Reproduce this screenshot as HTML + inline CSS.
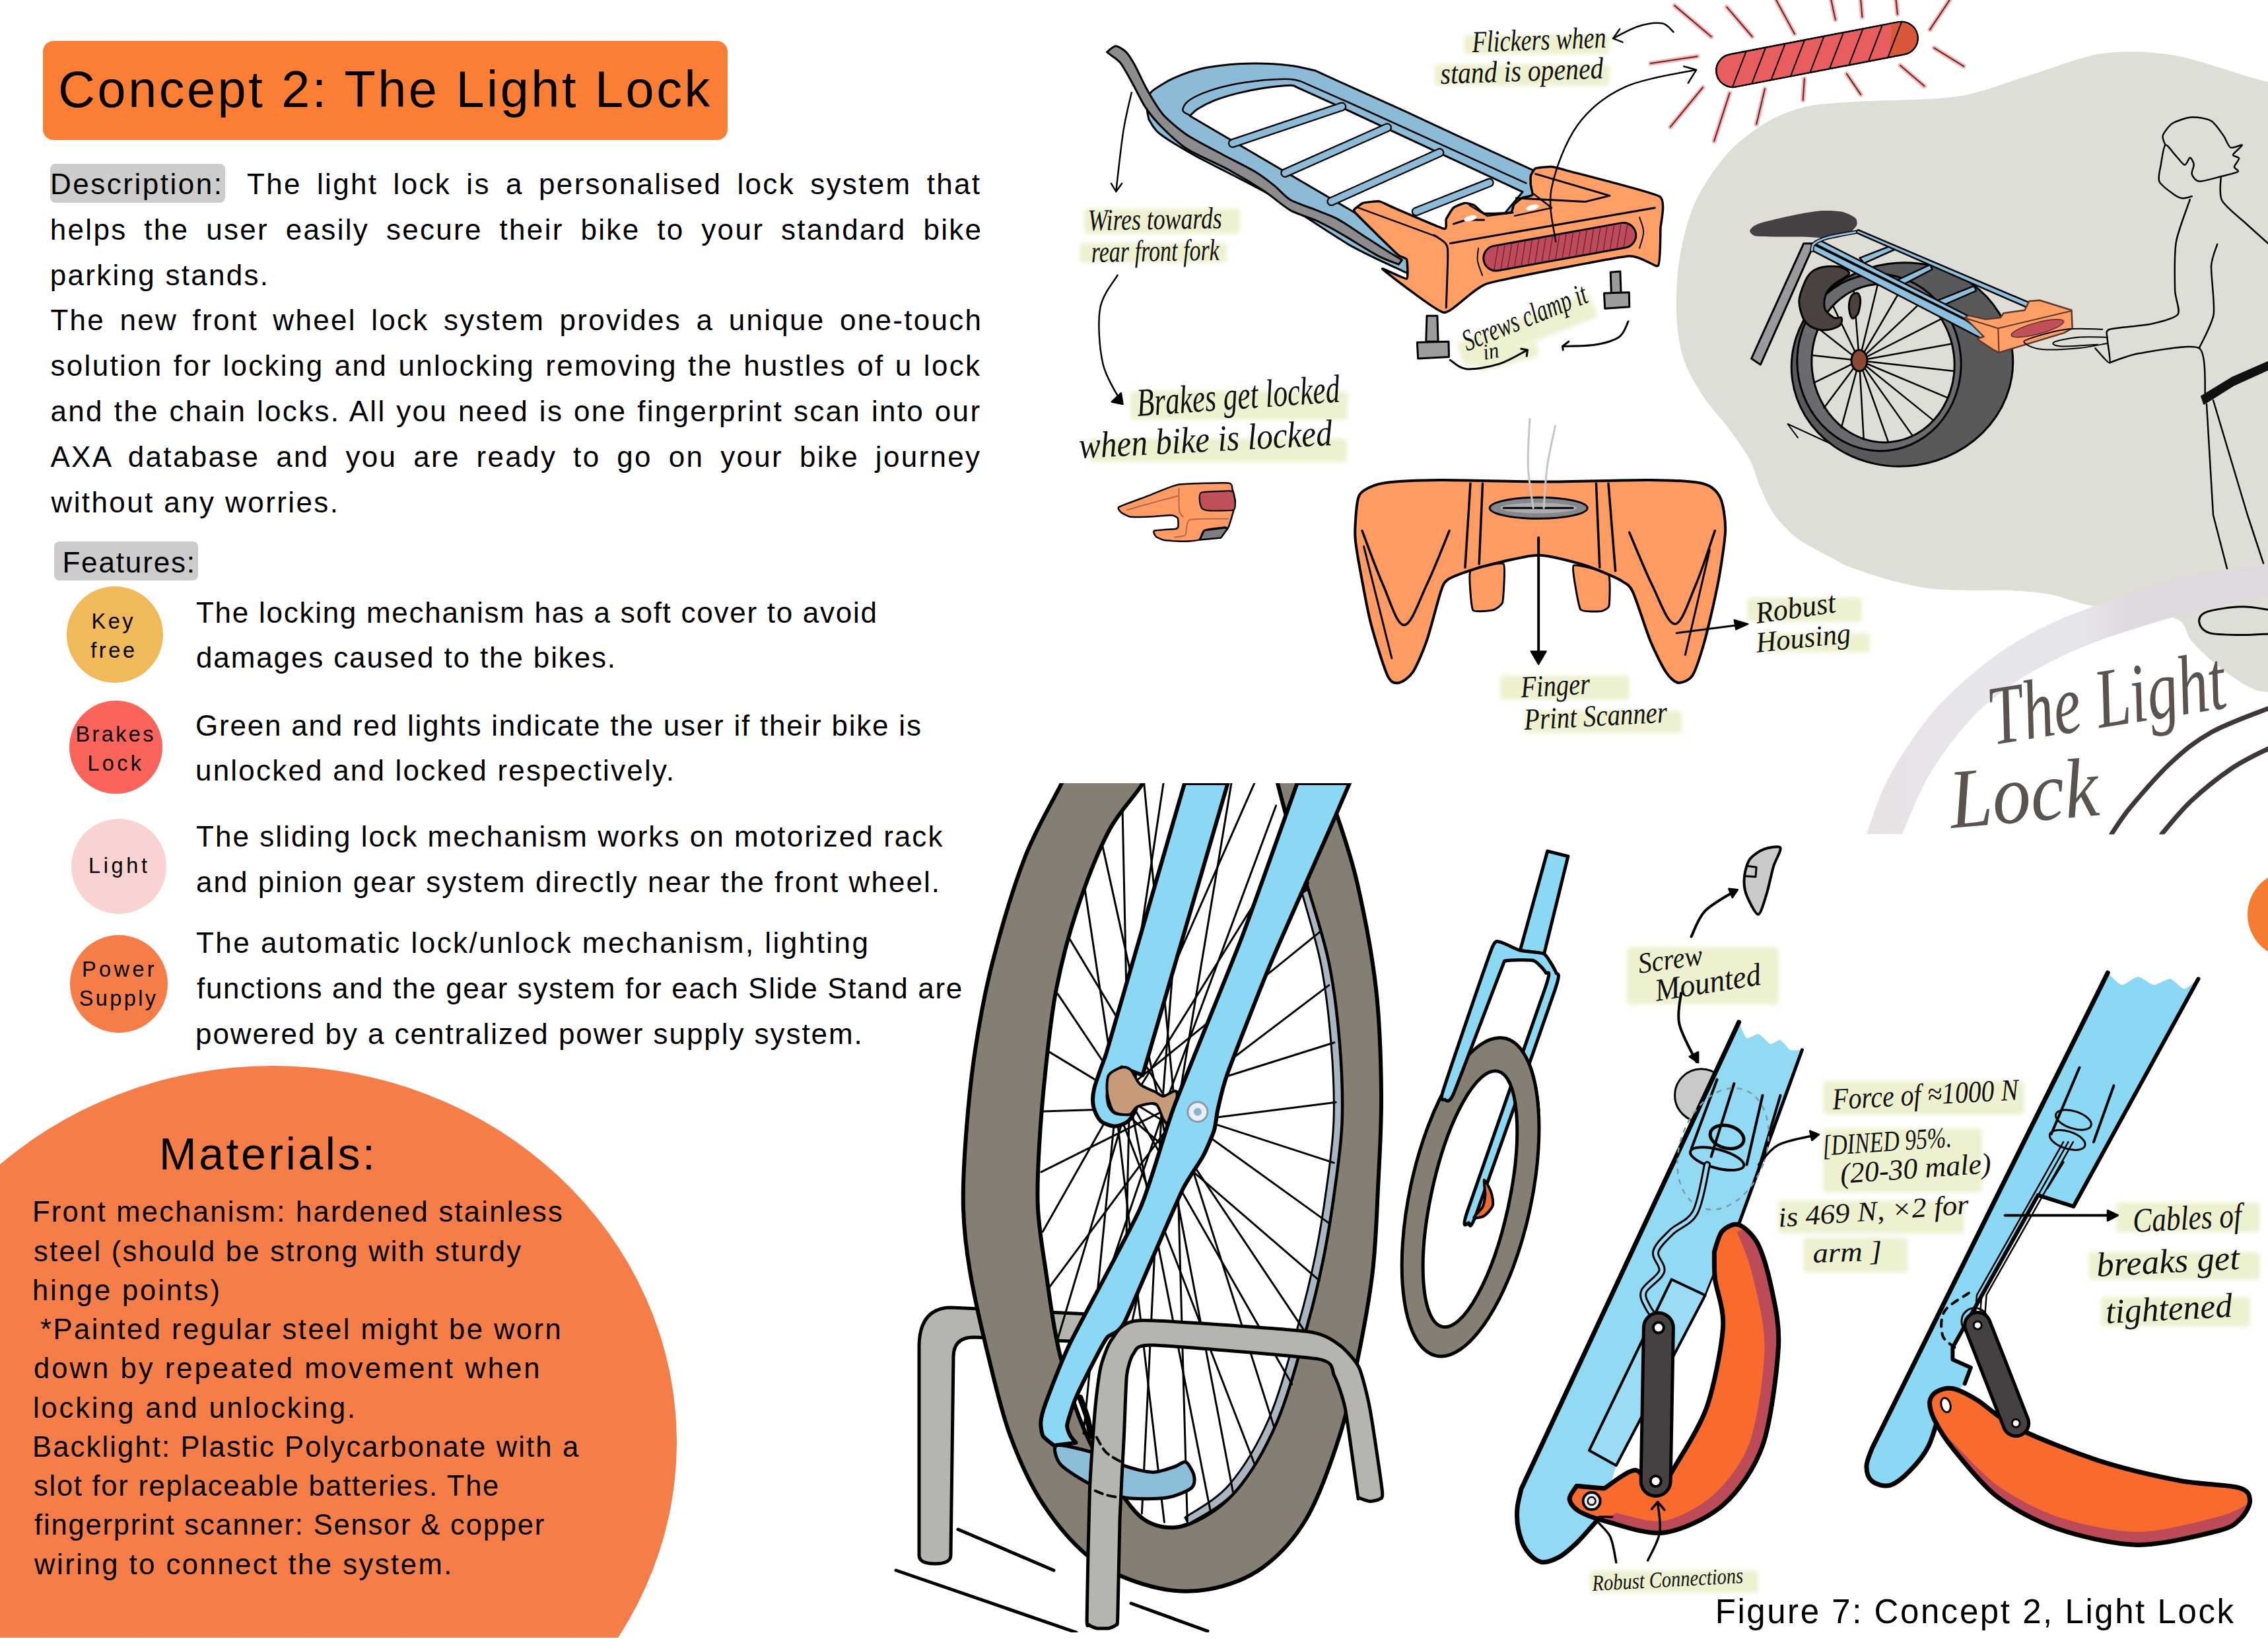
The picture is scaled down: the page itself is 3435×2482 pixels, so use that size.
<!DOCTYPE html>
<html lang="en"><head><meta charset="utf-8"><title>Concept 2: The Light Lock</title>
<style>
html,body{margin:0;padding:0;background:#fff;}
body{width:3435px;height:2482px;font-family:"Liberation Sans",sans-serif;color:#000;}
.t{position:absolute;white-space:pre;line-height:1;}
.box{position:absolute;}
.c{position:absolute;border-radius:50%;}
svg.art{position:absolute;left:0;top:0;}
svg.art text{font-family:"Liberation Serif",serif;font-style:italic;}
#page{position:relative;width:3435px;height:2482px;overflow:hidden;background:#fff;}
</style></head><body><div id="page">
<div class="c" style="left:-199.3px;top:1614px;width:1224px;height:1140px;background:#F47D48;"></div>
<div class="box" style="left:0;top:2479.5px;width:1100px;height:3px;background:#fff;"></div>
<div class="box" style="left:64.5px;top:61.5px;width:1037.4px;height:150.2px;border-radius:16px;background:#FA7F34;"></div>
<div class="box" style="left:76px;top:248px;width:265px;height:59px;border-radius:8px;background:#CCCCCC;"></div>
<div class="box" style="left:82px;top:820px;width:218px;height:58.5px;border-radius:8px;background:#CCCCCC;"></div>
<div class="c" style="left:100.5px;top:887.8px;width:146px;height:146px;background:#F0B95A;"></div>
<div class="c" style="left:104.5px;top:1061px;width:141px;height:141px;background:#FA645A;"></div>
<div class="c" style="left:107.5px;top:1240px;width:144px;height:144px;background:#FAD2D2;"></div>
<div class="c" style="left:106px;top:1415.6px;width:148px;height:148px;background:#F47D48;"></div>
<svg class="art" width="3435" height="2482" viewBox="0 0 3435 2482">
<!-- highlights -->
<defs><filter id="blurHL" x="-10%" y="-30%" width="120%" height="160%"><feGaussianBlur stdDeviation="3"/></filter></defs>
<rect x="2217" y="53" width="221" height="29" rx="6" fill="#EDF1CF" filter="url(#blurHL)"/>
<rect x="2173" y="97" width="265" height="33" rx="6" fill="#EDF1CF" filter="url(#blurHL)"/>
<rect x="1642" y="316" width="236" height="38" rx="6" fill="#EDF1CF" filter="url(#blurHL)"/>
<rect x="1635" y="368" width="223" height="30" rx="6" fill="#EDF1CF" filter="url(#blurHL)"/>
<rect x="1712" y="592" width="329" height="44" rx="6" fill="#EDF1CF" filter="url(#blurHL)"/>
<rect x="1650" y="664" width="390" height="36" rx="6" fill="#EDF1CF" filter="url(#blurHL)"/>
<rect x="2205" y="480" width="215" height="40" rx="6" fill="#EDF1CF" filter="url(#blurHL)" transform="rotate(-21 2312.5 500)"/>
<rect x="2235" y="528" width="95" height="24" rx="6" fill="#EDF1CF" filter="url(#blurHL)" transform="rotate(-15 2282.5 540)"/>
<rect x="2272" y="1023" width="196" height="37" rx="6" fill="#EDF1CF" filter="url(#blurHL)"/>
<rect x="2309" y="1076" width="238" height="34" rx="6" fill="#EDF1CF" filter="url(#blurHL)"/>
<rect x="2646" y="905" width="174" height="37" rx="6" fill="#EDF1CF" filter="url(#blurHL)"/>
<rect x="2663" y="959" width="169" height="29" rx="6" fill="#EDF1CF" filter="url(#blurHL)"/>
<rect x="2464" y="1434" width="230" height="87" rx="6" fill="#EDF1CF" filter="url(#blurHL)"/>
<rect x="2761" y="1637" width="305" height="51" rx="6" fill="#EDF1CF" filter="url(#blurHL)"/>
<rect x="2761" y="1709" width="241" height="97" rx="6" fill="#EDF1CF" filter="url(#blurHL)"/>
<rect x="2693" y="1818" width="282" height="50" rx="6" fill="#EDF1CF" filter="url(#blurHL)"/>
<rect x="2731" y="1874" width="158" height="53" rx="6" fill="#EDF1CF" filter="url(#blurHL)"/>
<rect x="3205" y="1821" width="218" height="45" rx="6" fill="#EDF1CF" filter="url(#blurHL)"/>
<rect x="3163" y="1896" width="260" height="42" rx="6" fill="#EDF1CF" filter="url(#blurHL)"/>
<rect x="3182" y="1964" width="226" height="45" rx="6" fill="#EDF1CF" filter="url(#blurHL)"/>
<rect x="2408" y="2378" width="255" height="34" rx="6" fill="#EDF1CF" filter="url(#blurHL)"/>
<!-- art_blob -->
<path d="M3435 124 C3404.1 118 3331.7 90.5 3294 84 C3256.3 77.5 3217 76.5 3184 81 C3151 85.5 3106.8 104.2 3074 114 C3041.2 123.8 3004.4 140 2965 146 C2925.6 152 2845.8 151.6 2811 154 C2776.2 156.4 2754 156.9 2733 162 C2712 167.1 2688.8 177.1 2671 188 C2653.2 198.9 2629.6 217.2 2614 235 C2598.4 252.8 2577.5 283.8 2567 307 C2556.5 330.2 2548.2 365.1 2544 390 C2539.8 414.9 2538.2 450.4 2539 473 C2539.8 495.6 2543.2 522.2 2549 541 C2554.8 559.8 2567.5 581.6 2578 598 C2588.5 614.4 2608.2 635.3 2619 650 C2629.8 664.7 2642.9 682.8 2650 696 C2657.1 709.2 2660.4 725.5 2666 738 C2671.6 750.5 2678.4 767.3 2687 779 C2695.6 790.7 2709.8 806.1 2723 816 C2736.2 825.9 2763.4 838.7 2775 845 C2786.6 851.3 2787.1 853 2800 858 C2812.9 863 2842.7 873 2861 878 C2879.3 883 2903.7 888.6 2922 891 C2940.3 893.4 2964.7 893.5 2983 894 C3001.3 894.5 3025.7 893.1 3044 894 C3062.3 894.9 3086.7 896.5 3105 900 C3123.3 903.5 3145.8 913.2 3166 917 C3186.2 920.8 3219.9 921.7 3240 925 C3260.1 928.3 3288.3 932.4 3300 939 C3311.7 945.6 3310.7 959.9 3318 969 C3325.3 978.1 3339.7 991.8 3349 1000 C3358.3 1008.2 3370.8 1017.7 3380 1024 C3389.2 1030.3 3401.8 1038.4 3410 1042 C3418.2 1045.6 3421.5 1046.8 3435 1048 C3448.5 1049.2 3490.2 1188.6 3500 1050 C3509.8 911.4 3509.8 262.9 3500 124 C3490.2 -14.9 3465.9 130 3435 124 Z" fill="#DEDED6"/>
<path d="M2731.7 368.8 L2652.6 543 L2666.4 552.2 L2747.8 368.8 Z" fill="#9A9A9E" stroke="#000" stroke-width="3" stroke-linejoin="round" stroke-linecap="round"/>
<g transform="rotate(-8 2881 552)"><ellipse cx="2881" cy="552" rx="168" ry="154" fill="#58595B" stroke="#000" stroke-width="3"/></g>
<ellipse cx="2846" cy="549" rx="124" ry="134" fill="#6A6B6E" stroke="#000" stroke-width="3" transform="rotate(-6 2846 549)"/>
<ellipse cx="2852" cy="550" rx="108" ry="120" fill="#DEDED6" stroke="#000" stroke-width="3" transform="rotate(-6 2852 550)"/>
<line x1="2816" y1="546" x2="2959.5" y2="562" stroke="#000" stroke-width="2.5" stroke-linecap="round"/>
<line x1="2816" y1="546" x2="2949.3" y2="602.1" stroke="#000" stroke-width="2.5" stroke-linecap="round"/>
<line x1="2816" y1="546" x2="2927.4" y2="635.9" stroke="#000" stroke-width="2.5" stroke-linecap="round"/>
<line x1="2816" y1="546" x2="2896.4" y2="659.4" stroke="#000" stroke-width="2.5" stroke-linecap="round"/>
<line x1="2816" y1="546" x2="2860" y2="669.7" stroke="#000" stroke-width="2.5" stroke-linecap="round"/>
<line x1="2816" y1="546" x2="2822.7" y2="665.5" stroke="#000" stroke-width="2.5" stroke-linecap="round"/>
<line x1="2816" y1="546" x2="2788.9" y2="647.4" stroke="#000" stroke-width="2.5" stroke-linecap="round"/>
<line x1="2816" y1="546" x2="2762.7" y2="617.6" stroke="#000" stroke-width="2.5" stroke-linecap="round"/>
<line x1="2816" y1="546" x2="2747.3" y2="579.6" stroke="#000" stroke-width="2.5" stroke-linecap="round"/>
<line x1="2816" y1="546" x2="2744.5" y2="538" stroke="#000" stroke-width="2.5" stroke-linecap="round"/>
<line x1="2816" y1="546" x2="2754.7" y2="497.9" stroke="#000" stroke-width="2.5" stroke-linecap="round"/>
<line x1="2816" y1="546" x2="2776.6" y2="464.1" stroke="#000" stroke-width="2.5" stroke-linecap="round"/>
<line x1="2816" y1="546" x2="2807.6" y2="440.6" stroke="#000" stroke-width="2.5" stroke-linecap="round"/>
<line x1="2816" y1="546" x2="2844" y2="430.3" stroke="#000" stroke-width="2.5" stroke-linecap="round"/>
<line x1="2816" y1="546" x2="2881.3" y2="434.5" stroke="#000" stroke-width="2.5" stroke-linecap="round"/>
<line x1="2816" y1="546" x2="2915.1" y2="452.6" stroke="#000" stroke-width="2.5" stroke-linecap="round"/>
<line x1="2816" y1="546" x2="2941.3" y2="482.4" stroke="#000" stroke-width="2.5" stroke-linecap="round"/>
<line x1="2816" y1="546" x2="2956.7" y2="520.4" stroke="#000" stroke-width="2.5" stroke-linecap="round"/>
<ellipse cx="2816" cy="546" rx="12" ry="16" fill="#8A4A36" stroke="#000" stroke-width="3"/>
<path d="M2732.9 428.4 C2735.6 421.9 2738.9 416 2743.2 412.3 C2747.5 408.7 2755 405.5 2761.5 404.3 C2768.1 403.1 2780.9 402.8 2786.7 404.3 C2792.6 405.9 2801.9 410.7 2800.5 414.6 C2799.1 418.6 2782.9 425.9 2777.6 430.7 C2772.2 435.5 2767 441.2 2765 446.7 C2762.9 452.2 2761.9 462.2 2763.8 467.4 C2765.7 472.5 2773.8 479.1 2777.6 481.1 C2781.4 483.2 2787.7 479.4 2789 481.1 C2790.4 482.8 2789.8 489.8 2786.7 492.6 C2783.6 495.3 2774.2 498.8 2768.4 499.5 C2762.5 500.2 2753.3 499.6 2747.8 497.2 C2742.3 494.8 2735.2 489.6 2731.7 483.4 C2728.3 477.2 2724.7 464.2 2724.8 455.9 C2725 447.7 2730.1 434.9 2732.9 428.4 Z" fill="#4A4140" stroke="#000" stroke-width="3" stroke-linejoin="round" stroke-linecap="round"/>
<path d="M2800.5 460.5 C2801 456.4 2803 449.1 2805.1 446.7 C2807.1 444.3 2812.4 443.1 2814.3 444.4 C2816.1 445.8 2817.7 451.4 2817.7 455.9 C2817.7 460.4 2816 470.3 2814.3 474.3 C2812.5 478.2 2808.1 482.3 2806.2 482.3 C2804.3 482.3 2802.5 477.5 2801.6 474.3 C2800.8 471 2800 464.6 2800.5 460.5 Z" fill="#4A4140" stroke="#000" stroke-width="3" stroke-linejoin="round" stroke-linecap="round"/>
<path d="M2650.3 349.3 C2650.9 346.8 2655.1 341.9 2662.9 339 C2670.7 336.1 2696.6 330.1 2708.8 327.5 C2721 324.9 2743.9 320.4 2754.6 319.5 C2765.3 318.6 2781.7 319.3 2789 320.6 C2796.4 322 2806.6 327.1 2809.7 329.8 C2812.7 332.6 2813.2 338.2 2812 341.3 C2810.7 344.3 2805.1 350.1 2800.5 352.7 C2795.9 355.3 2786.7 360 2777.6 360.8 C2768.4 361.5 2743.9 358.8 2731.7 358.5 C2719.5 358.2 2695.6 358.6 2685.9 358.5 C2676.1 358.3 2663.1 358.5 2658.3 357.3 C2653.6 356.1 2649.7 351.7 2650.3 349.3 Z" fill="#454142"/>
<path d="M2816.5 390.6 L2865.8 371.5 L2869.3 378 L2823.4 398.6 Z" fill="#8BC0DE" stroke="#000" stroke-width="2.5" stroke-linejoin="round" stroke-linecap="round"/>
<path d="M2873.9 423.8 L2923.2 400.9 L2926.6 407.8 L2880.7 431.8 Z" fill="#8BC0DE" stroke="#000" stroke-width="2.5" stroke-linejoin="round" stroke-linecap="round"/>
<path d="M2932.3 455.9 L2989.7 433 L2993.1 440.3 L2939.2 463.9 Z" fill="#8BC0DE" stroke="#000" stroke-width="2.5" stroke-linejoin="round" stroke-linecap="round"/>
<path d="M2809.7 351.6 L2814.3 348.1 L3073.3 458.2 L3069.9 465.5 Z" fill="#8BC0DE" stroke="#000" stroke-width="2.5" stroke-linejoin="round" stroke-linecap="round"/>
<path d="M2754.6 363.1 L2979.3 477.7 L2977 483.4 L2750.1 369.9 Z" fill="#8BC0DE" stroke="#000" stroke-width="2.5" stroke-linejoin="round" stroke-linecap="round"/>
<path d="M2747.8 370.6 L2977 484.6 L3006.8 506.4 L3004.6 514.4 L2744.3 379.1 Z" fill="#8BC0DE" stroke="#000" stroke-width="2.5" stroke-linejoin="round" stroke-linecap="round"/>
<path d="M2744.3 379.1 C2744.9 377.4 2743.7 372 2747.8 368.8 C2751.8 365.5 2758.1 362.5 2768.4 359.6 C2778.7 356.7 2802.8 352.9 2809.7 351.6" fill="none" stroke="#000" stroke-width="6" stroke-linejoin="round" stroke-linecap="round"/>
<path d="M2744.3 379.1 C2744.9 377.4 2743.7 372 2747.8 368.8 C2751.8 365.5 2758.1 362.5 2768.4 359.6 C2778.7 356.7 2802.8 352.9 2809.7 351.6" fill="none" stroke="#8BC0DE" stroke-width="3" stroke-linejoin="round" stroke-linecap="round"/>
<path d="M2975.9 481.1 L2981.6 477.7 L3006.8 483.4 L3029.8 481.1 L3034.4 474.3 L3066.5 469.7 L3073.3 455.9 L3089.4 454.8 L3137.5 469.7 L3138.7 497.2 L3126.1 504.1 L3027.5 533.9 L3018.3 529.3 L2994.2 513.2 L3004.6 509.8 Z" fill="#FF9F66" stroke="#5A3A2A" stroke-width="2.5" stroke-linejoin="round" stroke-linecap="round"/>
<ellipse cx="3085.9" cy="497.2" rx="41" ry="8.6" transform="rotate(-15 3085.9 497.2)" fill="#C0505A" stroke="#5A2A2A" stroke-width="1.5"/>
<path d="M3027.5 533.9 L3026.3 497.2 L3137.5 470.8" fill="none" stroke="#5A3A2A" stroke-width="2" stroke-linejoin="round" stroke-linecap="round"/>
<path d="M2978.2 482.3 L3026.3 497.2" fill="none" stroke="#5A3A2A" stroke-width="2" stroke-linejoin="round" stroke-linecap="round"/>
<path d="M2723 662.8 L2707.5 642 L2769.7 670.5" fill="none" stroke="#000" stroke-width="2" stroke-linejoin="round" stroke-linecap="round"/>
<path d="M3184.2 498.7 C3175.1 498.7 3147.6 496.4 3129.3 498.7 C3111 501 3084.8 509.1 3074.4 512.6 C3064 516.2 3064 517.2 3067.1 520 C3070.1 522.7 3079.3 527.9 3092.7 529.1 C3106.1 530.3 3131.2 528.8 3147.6 527.3 C3164.1 525.8 3184.2 521.2 3191.6 520" fill="none" stroke="#000" stroke-width="2" stroke-linejoin="round" stroke-linecap="round"/>
<path d="M3191.6 510.8 C3184.2 510.8 3161.1 509.6 3147.6 510.8 C3134.2 512 3115.3 515.9 3111 518.1 C3106.7 520.4 3111 523.7 3122 524.4 C3133 525 3167.8 522.2 3176.9 521.8" fill="none" stroke="#000" stroke-width="2" stroke-linejoin="round" stroke-linecap="round"/>
<path d="M3279.5 219.7 C3279 217.7 3274.3 209.4 3275.8 205.1 C3277.3 200.7 3284.6 190.4 3290.4 186.7 C3296.3 183.1 3311.9 178.1 3319.7 177.6 C3327.5 177.1 3342.7 179.4 3349 183.1 C3355.4 186.7 3363.4 199.7 3367.3 205.1 C3371.2 210.4 3374.5 221.4 3378.3 223.4 C3382.1 225.3 3395.4 218.2 3395.9 219.7 C3396.4 221.2 3382.6 231.7 3382 234.3 C3381.3 237 3390.9 237.4 3391.1 239.8 C3391.4 242.3 3384.1 250 3383.8 252.7 C3383.6 255.3 3392 258 3389.3 260 C3386.6 261.9 3371.5 265.3 3363.7 267.3 C3355.9 269.3 3336.6 275.1 3330.7 274.6 C3324.9 274.1 3320.8 267.1 3319.7 263.6 C3318.7 260.2 3323.1 252.3 3322.7 249 C3322.3 245.7 3318.7 238.6 3316.8 238.7 C3314.9 238.8 3311.8 250.3 3308.7 249.7 C3305.7 249.1 3298 238.3 3294.1 234.3 C3290.2 230.3 3282.3 217.7 3279.5 219.7 C3276.6 221.7 3274.1 241.7 3272.9 249 C3271.6 256.3 3268 268.8 3270.3 274.6 C3272.6 280.5 3285.8 289.5 3290.4 292.9 C3295.1 296.4 3301.2 299.7 3305.1 300.3 C3309 300.8 3317.8 297.7 3319.7 297.3" fill="none" stroke="#000" stroke-width="2.5" stroke-linejoin="round" stroke-linecap="round"/>
<path d="M3363.7 268 C3363.9 272.8 3360.1 294.3 3365.5 303.9 C3370.9 313.6 3393.9 331.3 3403.9 340.5 C3414 349.8 3435.7 369.1 3440.6 373.5" fill="none" stroke="#000" stroke-width="2.5" stroke-linejoin="round" stroke-linecap="round"/>
<path d="M3316.8 302.1 C3314.4 309.6 3298.6 350.1 3295.9 366.2 C3293.3 382.2 3293.8 426.6 3294.1 439.4 C3294.4 452.2 3302.8 470 3298.5 476 C3294.2 482 3269.5 488 3257.5 490.7 C3245.4 493.3 3202.9 496.2 3195.2 498.7 C3187.5 501.3 3191.6 506.7 3191.6 512.6 C3191.6 518.5 3197.4 547.5 3195.2 549.2 C3193.1 551 3175.8 529.8 3173.3 527.3" fill="none" stroke="#000" stroke-width="2.5" stroke-linejoin="round" stroke-linecap="round"/>
<path d="M3195.2 549.2 C3200.4 547.6 3223.4 537.9 3239.2 535.3 C3255 532.8 3319 519.7 3330.7 527.3 C3342.5 534.8 3338.8 591.6 3339.9 600.1" fill="none" stroke="#000" stroke-width="2.5" stroke-linejoin="round" stroke-linecap="round"/>
<path d="M3358.2 369.8 C3357.1 373.7 3349.7 390.4 3349 402.8 C3348.4 415.2 3354.8 461.5 3352.7 476 C3350.5 490.5 3333.3 521.3 3330.7 527.3" fill="none" stroke="#000" stroke-width="2.5" stroke-linejoin="round" stroke-linecap="round"/>
<path d="M3334 600 L3380 572 L3435 548 L3435 560 L3384 583 L3338 612 Z" fill="#111" stroke="#111" stroke-width="2" stroke-linejoin="round" stroke-linecap="round"/>
<path d="M3342 612 L3352 780 L3373 861" fill="none" stroke="#000" stroke-width="2.5" stroke-linejoin="round" stroke-linecap="round"/>
<path d="M3352 606 L3404 780 L3428 853" fill="none" stroke="#000" stroke-width="2.5" stroke-linejoin="round" stroke-linecap="round"/>
<path d="M3435 923.3 C3428.3 922.6 3410.1 918.3 3394.7 918.8 C3379.4 919.3 3353.6 922.6 3342.9 926.4 C3332.2 930.2 3330.2 936.3 3330.7 941.6 C3331.2 947 3335.3 955.1 3345.9 958.4 C3356.6 961.7 3379.9 961.2 3394.7 961.5 C3409.6 961.7 3428.3 960.2 3435 959.9" fill="none" stroke="#000" stroke-width="3" stroke-linejoin="round" stroke-linecap="round"/>
<!-- art_rack -->
<path d="M1737.3 167.6 C1737.9 163.8 1738.5 148 1741.3 142.4 C1744 136.9 1750.5 134.1 1755.8 130.5 C1761.2 127 1769 122.2 1777 118.6 C1784.9 115.1 1798 109.6 1808.7 106.7 C1819.4 103.8 1834.5 100.9 1848.4 99.3 C1862.3 97.7 1885.4 96.1 1901.3 96.1 C1917.2 96.1 1940.7 97.7 1954.2 99.3 C1967.7 100.9 1985.7 105.6 1991.3 106.7 L2046.8 131.9 L2126.2 167.6 L2205.6 204.6 L2327.2 260.2 L2327.2 321 L2131.5 426.8 L2131.5 413.6 C2120.2 408.1 2072.2 387.1 2046.8 372.6 C2021.4 358.1 1962.2 318 1941 305.1 C1919.8 292.3 1905.7 285.4 1888.1 276 C1870.5 266.7 1826.4 244.9 1808.7 235 C1791.1 225.1 1765 209.2 1755.8 202 C1746.6 194.7 1742.1 183.6 1739.9 180.8 Z" fill="#8BBBD6" stroke="#000" stroke-width="3" stroke-linejoin="round" stroke-linecap="round"/>
<path d="M1802.1 175.5 C1803.9 173.9 1808.3 168.5 1814 164.9 C1819.8 161.3 1831.3 155.3 1840.5 151.7 C1849.6 148.1 1863.8 143.9 1874.9 141.1 C1886 138.3 1902.6 135 1914.6 133.2 C1926.5 131.4 1946.9 129.4 1954.2 129.2 C1961.6 129 1962.1 131.5 1963.5 131.9 L2031 162.3 L2306.1 290.6 L2258.5 347.5 L2099.7 347.5 L2054.8 323.7 Z" fill="#fff" stroke="#000" stroke-width="3" stroke-linejoin="round" stroke-linecap="round"/>
<path d="M1802.9 175 C1801.2 173.9 1792.2 170.7 1791.5 167.6 C1790.8 164.5 1793.6 158.3 1798.1 154.3 C1802.7 150.4 1812.4 144.9 1822 141.1 C1831.5 137.3 1847.8 132.2 1861.6 129.2 C1875.5 126.2 1900.7 122.7 1914.6 121.3 C1928.4 119.9 1945.9 119.7 1954.2 119.9 C1962.6 120.2 1967.7 122.6 1970.1 123.1 L1970.1 123.1 L2046.8 157 L2311.4 277.4" fill="none" stroke="#000" stroke-width="2.5" stroke-linejoin="round" stroke-linecap="round"/>
<line x1="1866.9" y1="217" x2="2032.3" y2="161.5" stroke="#000" stroke-width="14" stroke-linecap="round"/>
<line x1="1866.9" y1="217" x2="2032.3" y2="161.5" stroke="#8BBBD6" stroke-width="9.5" stroke-linecap="round"/>
<line x1="1946.3" y1="262" x2="2101.1" y2="193.2" stroke="#000" stroke-width="14" stroke-linecap="round"/>
<line x1="1946.3" y1="262" x2="2101.1" y2="193.2" stroke="#8BBBD6" stroke-width="9.5" stroke-linecap="round"/>
<line x1="2016.4" y1="305.1" x2="2180.4" y2="231.1" stroke="#000" stroke-width="14" stroke-linecap="round"/>
<line x1="2016.4" y1="305.1" x2="2180.4" y2="231.1" stroke="#8BBBD6" stroke-width="9.5" stroke-linecap="round"/>
<line x1="2144.7" y1="320.5" x2="2255.8" y2="276.6" stroke="#000" stroke-width="14" stroke-linecap="round"/>
<line x1="2144.7" y1="320.5" x2="2255.8" y2="276.6" stroke="#8BBBD6" stroke-width="9.5" stroke-linecap="round"/>
<path d="M1676.5 78.9 C1678.2 77.7 1685.8 69.7 1689.7 69.7 C1693.6 69.7 1701.7 75.1 1705.6 78.9 C1709.4 82.8 1714.6 91.2 1718.8 98.8 C1723 106.4 1731.7 125.9 1737.3 135.8 C1742.9 145.7 1753 163.7 1761.1 172.9 C1769.2 182 1786.2 196.5 1798.1 204.6 C1810.1 212.7 1837.3 226.3 1851.1 233.7 C1864.8 241.1 1890.7 253.8 1901.3 260.2 C1911.9 266.5 1923.4 275.7 1930.4 281.3 C1937.5 287 1945.8 297.5 1954.2 302.5 C1962.7 307.4 1984.4 314.5 1993.9 318.4 C2003.4 322.2 2016.5 326.6 2025.7 331.6 C2034.8 336.5 2052.8 349 2062.7 355.4 C2072.6 361.7 2091.6 374.1 2099.7 379.2 C2107.8 384.3 2120.4 391.8 2123.5 393.8 L2118.3 400.4 C2114 398.6 2097.8 393.1 2086.5 387.1 C2075.2 381.1 2045.9 362.5 2033.6 355.4 C2021.3 348.3 2004.5 339.2 1993.9 334.2 C1983.3 329.3 1964.8 324.4 1954.2 318.4 C1943.7 312.4 1926.9 297.4 1914.6 289.3 C1902.2 281.1 1877.2 266 1861.6 257.5 C1846.1 249 1811.6 234.2 1798.1 225.8 C1784.7 217.3 1769.6 202.5 1761.1 194 C1752.6 185.6 1740.7 171.1 1734.7 162.3 C1728.7 153.5 1721.1 136.7 1716.1 127.9 C1711.2 119.1 1702.2 102.1 1697.6 96.1 C1693 90.1 1683.9 84.7 1681.7 82.9 Z" fill="#8C8C8E" stroke="#000" stroke-width="3" stroke-linejoin="round" stroke-linecap="round"/>
<path d="M2051.2 317.1 C2052.1 316.1 2061.9 308.3 2064.6 307.4 C2067.4 306.5 2085.6 304.4 2089 304.9 C2092.4 305.5 2103.8 311.6 2111 314.7 C2118.2 317.7 2180.8 345.2 2186.7 346.4 C2192.5 347.7 2189.2 334.1 2190.3 331.8 C2191.4 329.4 2199.2 316.5 2201.3 314.7 C2203.4 312.9 2216 307.6 2218.4 307.4 C2220.7 307.1 2230.9 309.9 2233 311 C2235.2 312.2 2243.6 322.4 2247.7 323.2 C2251.7 324 2284.6 323 2287.9 322 C2291.2 321 2291.5 311.4 2292.8 309.8 C2294.1 308.2 2302.9 301.1 2305 300 C2307.1 299 2319.9 296.6 2320.9 295.2 C2321.8 293.7 2318.6 282.7 2318.4 280.5 C2318.2 278.4 2317.9 267.8 2318.4 265.9 C2319 264 2323.4 255.9 2325.7 254.9 C2328.1 253.9 2346.6 252.2 2350.1 252.5 C2353.7 252.7 2362.6 255.3 2374.5 258.6 C2386.5 261.9 2503.4 291.2 2513.6 297.6 C2523.9 304.1 2515 338.7 2514.9 346.4 C2514.7 354.1 2514.9 399.5 2511.2 402.5 C2507.5 405.6 2483.8 385.9 2464.8 387.9 C2445.9 389.9 2272.9 423.1 2252.5 429.4 C2232.1 435.6 2198.3 474.9 2186.7 473.3 C2175 471.7 2098 411.2 2093.9 407.4 C2089.8 403.7 2127.8 423.1 2130.5 422.1 C2133.2 421 2131.4 395.4 2130.5 392.8 C2129.6 390.2 2121.5 389.4 2118.3 386.7 C2115.1 384 2091.4 360.9 2086.6 356.2 C2081.8 351.4 2055 324.9 2052.4 322 C2049.8 319.1 2050.3 318.2 2051.2 317.1 Z" fill="#FF9F66" stroke="#000" stroke-width="3.5" stroke-linejoin="round" stroke-linecap="round"/>
<line x1="2196.4" y1="368.4" x2="2506.3" y2="314.7" stroke="#000" stroke-width="3" stroke-linecap="round"/>
<path d="M2172 356.2 C2174.3 357.8 2186.3 364.5 2189.1 368.4 C2191.9 372.3 2192.6 372.4 2192.8 385.5 C2192.9 398.5 2190.6 455.2 2190.3 466" fill="none" stroke="#000" stroke-width="3" stroke-linejoin="round" stroke-linecap="round"/>
<line x1="2057.3" y1="314.7" x2="2176.9" y2="358.6" stroke="#000" stroke-width="2.5" stroke-linecap="round"/>
<path d="M2325.7 263.4 L2438 296.4 L2401.4 305.4 L2296.5 300" fill="none" stroke="#000" stroke-width="3" stroke-linejoin="round" stroke-linecap="round"/>
<path d="M2201.3 339.1 L2220.8 333 L2247.7 333" fill="none" stroke="#000" stroke-width="3" stroke-linejoin="round" stroke-linecap="round"/>
<path d="M2225.7 311 L2252.5 326.9 L2291.6 322" fill="none" stroke="#000" stroke-width="2.5" stroke-linejoin="round" stroke-linecap="round"/>
<path d="M2323.3 293.9 L2350.1 314.7 L2294 326.9" fill="none" stroke="#000" stroke-width="2.5" stroke-linejoin="round" stroke-linecap="round"/>
<ellipse cx="2226.9" cy="330.6" rx="10" ry="4" fill="#fff" transform="rotate(-15 2226.9 330.6)"/>
<ellipse cx="2320.9" cy="314.2" rx="10" ry="4" fill="#fff" transform="rotate(-15 2320.9 314.2)"/>
<g transform="rotate(-10.2 2362.3 373.7)"><rect x="2245.3" y="354.7" width="234" height="38" rx="19" fill="#BE4B5B" stroke="#000" stroke-width="3"/><line x1="2258.3" y1="390.7" x2="2270.3" y2="356.7" stroke="#6A1E2A" stroke-width="1.3"/><line x1="2268.8" y1="390.7" x2="2280.8" y2="356.7" stroke="#6A1E2A" stroke-width="1.3"/><line x1="2279.3" y1="390.7" x2="2291.3" y2="356.7" stroke="#6A1E2A" stroke-width="1.3"/><line x1="2289.8" y1="390.7" x2="2301.8" y2="356.7" stroke="#6A1E2A" stroke-width="1.3"/><line x1="2300.3" y1="390.7" x2="2312.3" y2="356.7" stroke="#6A1E2A" stroke-width="1.3"/><line x1="2310.8" y1="390.7" x2="2322.8" y2="356.7" stroke="#6A1E2A" stroke-width="1.3"/><line x1="2321.3" y1="390.7" x2="2333.3" y2="356.7" stroke="#6A1E2A" stroke-width="1.3"/><line x1="2331.8" y1="390.7" x2="2343.8" y2="356.7" stroke="#6A1E2A" stroke-width="1.3"/><line x1="2342.3" y1="390.7" x2="2354.3" y2="356.7" stroke="#6A1E2A" stroke-width="1.3"/><line x1="2352.8" y1="390.7" x2="2364.8" y2="356.7" stroke="#6A1E2A" stroke-width="1.3"/><line x1="2363.3" y1="390.7" x2="2375.3" y2="356.7" stroke="#6A1E2A" stroke-width="1.3"/><line x1="2373.8" y1="390.7" x2="2385.8" y2="356.7" stroke="#6A1E2A" stroke-width="1.3"/><line x1="2384.3" y1="390.7" x2="2396.3" y2="356.7" stroke="#6A1E2A" stroke-width="1.3"/><line x1="2394.8" y1="390.7" x2="2406.8" y2="356.7" stroke="#6A1E2A" stroke-width="1.3"/><line x1="2405.3" y1="390.7" x2="2417.3" y2="356.7" stroke="#6A1E2A" stroke-width="1.3"/><line x1="2415.8" y1="390.7" x2="2427.8" y2="356.7" stroke="#6A1E2A" stroke-width="1.3"/><line x1="2426.3" y1="390.7" x2="2438.3" y2="356.7" stroke="#6A1E2A" stroke-width="1.3"/><line x1="2436.8" y1="390.7" x2="2448.8" y2="356.7" stroke="#6A1E2A" stroke-width="1.3"/><line x1="2447.3" y1="390.7" x2="2459.3" y2="356.7" stroke="#6A1E2A" stroke-width="1.3"/><line x1="2457.8" y1="390.7" x2="2469.8" y2="356.7" stroke="#6A1E2A" stroke-width="1.3"/></g>
<path d="M2239.1 375.7 C2238.9 378.9 2236.9 388.3 2237.9 395.2 C2238.9 402.1 2244 413.5 2245.2 417.2" fill="none" stroke="#000" stroke-width="2" stroke-linejoin="round" stroke-linecap="round"/>
<path d="M2483.1 329.3 C2484.2 333 2489.2 343.6 2489.2 351.3 C2489.2 359 2484.2 371.6 2483.1 375.7" fill="none" stroke="#000" stroke-width="2" stroke-linejoin="round" stroke-linecap="round"/>
<path d="M2161 478.2 L2176.9 478.2 L2178.1 517.2 L2159.8 517.2 Z" fill="#9C9C9E" stroke="#000" stroke-width="3" stroke-linejoin="round" stroke-linecap="round"/>
<path d="M2146.4 518.4 L2194 517.2 L2194.5 540.4 L2147.6 542.9 Z" fill="#9C9C9E" stroke="#000" stroke-width="3" stroke-linejoin="round" stroke-linecap="round"/>
<path d="M2439.2 412.3 L2453.9 411.1 L2455.1 444 L2440.4 444 Z" fill="#9C9C9E" stroke="#000" stroke-width="3" stroke-linejoin="round" stroke-linecap="round"/>
<path d="M2429.5 444 L2467.3 442.8 L2467.8 464.8 L2430.7 467.2 Z" fill="#9C9C9E" stroke="#000" stroke-width="3" stroke-linejoin="round" stroke-linecap="round"/>
<path d="M2196.4 545.3 C2200.5 547.5 2208.6 557.7 2220.8 558.7 C2233 559.7 2254.4 556.1 2269.6 551.4 C2284.9 546.7 2305.2 534.1 2312.3 530.6" fill="none" stroke="#000" stroke-width="3" stroke-linejoin="round" stroke-linecap="round"/>
<path d="M2303.8 528.2 L2313.5 529.9 L2312.3 539.2" fill="none" stroke="#000" stroke-width="3" stroke-linejoin="round" stroke-linecap="round"/>
<path d="M2466.1 486.7 C2463.8 490.6 2461 504 2452.6 509.9 C2444.3 515.8 2430.3 519.7 2416 522.1 C2401.8 524.5 2375.4 524.1 2367.2 524.5" fill="none" stroke="#000" stroke-width="3" stroke-linejoin="round" stroke-linecap="round"/>
<path d="M2375.8 517.2 L2366.5 524.5 L2367.2 529.9" fill="none" stroke="#000" stroke-width="3" stroke-linejoin="round" stroke-linecap="round"/>
<path d="M2356.2 366 C2355.1 352.7 2344 316 2349.6 286.6 C2355.1 257.2 2370.9 215.3 2389.2 189.6 C2407.6 163.9 2430 146.2 2459.8 132.3 C2489.6 118.3 2549.8 110.2 2567.8 105.8" fill="none" stroke="#000" stroke-width="2.5" stroke-linejoin="round" stroke-linecap="round"/>
<path d="M2550.2 100.5 L2569.1 105.8 L2556.8 125.7" fill="none" stroke="#000" stroke-width="2.5" stroke-linejoin="round" stroke-linecap="round"/>
<path d="M2534.7 48.5 C2531.8 46.3 2525.9 36.7 2517.1 35.3 C2508.3 33.8 2494 36 2481.8 39.7 C2469.7 43.4 2450.6 54.4 2444.4 57.3" fill="none" stroke="#000" stroke-width="2.5" stroke-linejoin="round" stroke-linecap="round"/>
<path d="M2453.2 44.1 L2443 58.2 L2457.6 63.9" fill="none" stroke="#000" stroke-width="2.5" stroke-linejoin="round" stroke-linecap="round"/>
<path d="M1713.8 140.2 C1711.7 149.9 1705.3 173.6 1701.4 198.4 C1697.5 223.2 1692.2 273.7 1690.4 288.8" fill="none" stroke="#000" stroke-width="2.5" stroke-linejoin="round" stroke-linecap="round"/>
<path d="M1682.9 277.8 L1690.4 290.1 L1699.2 277.8" fill="none" stroke="#000" stroke-width="2.5" stroke-linejoin="round" stroke-linecap="round"/>
<path d="M1692.6 416.7 C1688.2 425.1 1669.8 445 1666.1 467.4 C1662.5 489.8 1665 527.3 1670.5 551.1 C1676.1 575 1694.4 600.7 1699.2 610.7" fill="none" stroke="#000" stroke-width="2.5" stroke-linejoin="round" stroke-linecap="round"/>
<path d="M1683.8 608.5 L1700.5 612 L1697.9 595.2 Z" fill="#000" stroke="#000" stroke-width="2.5" stroke-linejoin="round" stroke-linecap="round"/>
<!-- art_flicker -->
<line x1="2536.3" y1="8.5" x2="2591.8" y2="55.5" stroke="#F3B4B4" stroke-width="7" stroke-linecap="round"/>
<line x1="2615.3" y1="10.7" x2="2653.8" y2="55.5" stroke="#F3B4B4" stroke-width="7" stroke-linecap="round"/>
<line x1="2690.1" y1="0" x2="2717.9" y2="51.3" stroke="#F3B4B4" stroke-width="7" stroke-linecap="round"/>
<line x1="2773.4" y1="0" x2="2779.8" y2="29.9" stroke="#F3B4B4" stroke-width="7" stroke-linecap="round"/>
<line x1="2818.2" y1="0" x2="2820.4" y2="25.6" stroke="#F3B4B4" stroke-width="7" stroke-linecap="round"/>
<line x1="2871.6" y1="0" x2="2873.8" y2="21.4" stroke="#F3B4B4" stroke-width="7" stroke-linecap="round"/>
<line x1="2952.8" y1="0" x2="2922.9" y2="44.9" stroke="#F3B4B4" stroke-width="7" stroke-linecap="round"/>
<line x1="2929.3" y1="72.6" x2="2974.2" y2="100.4" stroke="#F3B4B4" stroke-width="7" stroke-linecap="round"/>
<line x1="2878" y1="99.1" x2="2914.4" y2="130.3" stroke="#F3B4B4" stroke-width="7" stroke-linecap="round"/>
<line x1="2796.9" y1="111.9" x2="2818.2" y2="143.1" stroke="#F3B4B4" stroke-width="7" stroke-linecap="round"/>
<line x1="2732.8" y1="119.6" x2="2730.7" y2="151.6" stroke="#F3B4B4" stroke-width="7" stroke-linecap="round"/>
<line x1="2673" y1="134.6" x2="2660.2" y2="188" stroke="#F3B4B4" stroke-width="7" stroke-linecap="round"/>
<line x1="2619.6" y1="141" x2="2596.1" y2="213.6" stroke="#F3B4B4" stroke-width="7" stroke-linecap="round"/>
<line x1="2579" y1="132.4" x2="2529.9" y2="192.2" stroke="#F3B4B4" stroke-width="7" stroke-linecap="round"/>
<line x1="2500" y1="96.1" x2="2570.5" y2="85.4" stroke="#F3B4B4" stroke-width="7" stroke-linecap="round"/>
<line x1="2536.3" y1="8.5" x2="2591.8" y2="55.5" stroke="#6A2222" stroke-width="2" stroke-linecap="round"/>
<line x1="2615.3" y1="10.7" x2="2653.8" y2="55.5" stroke="#6A2222" stroke-width="2" stroke-linecap="round"/>
<line x1="2690.1" y1="0" x2="2717.9" y2="51.3" stroke="#6A2222" stroke-width="2" stroke-linecap="round"/>
<line x1="2773.4" y1="0" x2="2779.8" y2="29.9" stroke="#6A2222" stroke-width="2" stroke-linecap="round"/>
<line x1="2818.2" y1="0" x2="2820.4" y2="25.6" stroke="#6A2222" stroke-width="2" stroke-linecap="round"/>
<line x1="2871.6" y1="0" x2="2873.8" y2="21.4" stroke="#6A2222" stroke-width="2" stroke-linecap="round"/>
<line x1="2952.8" y1="0" x2="2922.9" y2="44.9" stroke="#6A2222" stroke-width="2" stroke-linecap="round"/>
<line x1="2929.3" y1="72.6" x2="2974.2" y2="100.4" stroke="#6A2222" stroke-width="2" stroke-linecap="round"/>
<line x1="2878" y1="99.1" x2="2914.4" y2="130.3" stroke="#6A2222" stroke-width="2" stroke-linecap="round"/>
<line x1="2796.9" y1="111.9" x2="2818.2" y2="143.1" stroke="#6A2222" stroke-width="2" stroke-linecap="round"/>
<line x1="2732.8" y1="119.6" x2="2730.7" y2="151.6" stroke="#6A2222" stroke-width="2" stroke-linecap="round"/>
<line x1="2673" y1="134.6" x2="2660.2" y2="188" stroke="#6A2222" stroke-width="2" stroke-linecap="round"/>
<line x1="2619.6" y1="141" x2="2596.1" y2="213.6" stroke="#6A2222" stroke-width="2" stroke-linecap="round"/>
<line x1="2579" y1="132.4" x2="2529.9" y2="192.2" stroke="#6A2222" stroke-width="2" stroke-linecap="round"/>
<line x1="2500" y1="96.1" x2="2570.5" y2="85.4" stroke="#6A2222" stroke-width="2" stroke-linecap="round"/>
<g transform="rotate(-10.9 2752 82.4)"><rect x="2597" y="57.4" width="310" height="50" rx="25" fill="#E85E5E" stroke="#000" stroke-width="2.2"/><path d="M2872 57.4 h10 a25 25 0 0 1 0 50 h-22 Z" fill="#D9583A"/><line x1="2617" y1="106.4" x2="2647" y2="58.4" stroke="#000" stroke-width="2"/><line x1="2647" y1="106.4" x2="2677" y2="58.4" stroke="#000" stroke-width="2"/><line x1="2677" y1="106.4" x2="2707" y2="58.4" stroke="#000" stroke-width="2"/><line x1="2707" y1="106.4" x2="2737" y2="58.4" stroke="#000" stroke-width="2"/><line x1="2737" y1="106.4" x2="2767" y2="58.4" stroke="#000" stroke-width="2"/><line x1="2767" y1="106.4" x2="2797" y2="58.4" stroke="#000" stroke-width="2"/><line x1="2797" y1="106.4" x2="2827" y2="58.4" stroke="#000" stroke-width="2"/><line x1="2827" y1="106.4" x2="2857" y2="58.4" stroke="#000" stroke-width="2"/><line x1="2857" y1="106.4" x2="2887" y2="58.4" stroke="#000" stroke-width="2"/><rect x="2597" y="57.4" width="310" height="50" rx="25" fill="none" stroke="#000" stroke-width="2.2"/></g>
<!-- art_housing -->
<path d="M1823.9 803.2 L1854.9 799.2 L1859.5 800.3 L1849.2 814.6 L1817.1 817.5 Z" fill="#7E7E80" stroke="#000" stroke-width="2.5" stroke-linejoin="round" stroke-linecap="round"/>
<path d="M1695 767.6 C1691.4 769.7 1696.4 774.4 1697.8 775.7 C1699.2 776.9 1708.1 782 1711.6 782.5 C1715.1 783.1 1735 782.7 1740.2 782.5 C1745.5 782.3 1771 780.1 1774.6 780.2 C1778.3 780.4 1783 783.4 1783.8 784.8 C1784.6 786.3 1784.7 796.1 1784.4 797.4 C1784.1 798.8 1783.4 800.4 1780.4 800.9 C1777.4 801.4 1750.8 802.8 1748.3 803.7 C1745.8 804.7 1749.3 811.2 1750.6 812.3 C1751.8 813.5 1759.7 817.5 1763.2 818.1 C1766.6 818.7 1787.4 819.8 1791.8 819.8 C1796.2 819.8 1813.2 818.9 1815.9 817.5 C1818.6 816.1 1820.7 804.8 1823.9 803.2 C1827.2 801.6 1851.9 798.9 1854.9 798.6 C1857.9 798.3 1859.1 801 1860 799.5 C1861 798 1865.4 783.6 1866.4 780.2 C1867.3 776.9 1870.9 763 1870.9 759.6 C1870.9 756.3 1867.2 742.5 1866.4 740.1 C1865.5 737.8 1867.4 732.1 1860.6 731.5 C1853.8 731 1795 732.2 1785 733.8 C1774.9 735.4 1747.7 747.6 1740.2 750.4 C1732.7 753.3 1698.5 765.5 1695 767.6 Z" fill="#FF9B63" stroke="#000" stroke-width="2.5" stroke-linejoin="round" stroke-linecap="round"/>
<path d="M1819.3 745.9 C1823.1 744.3 1850.1 743.7 1854.9 743.6 C1859.7 743.4 1865.7 742.9 1867.3 744.5 C1868.8 746.1 1870.4 756.8 1870.5 759.6 C1870.6 762.4 1871.9 770.8 1868.1 772.2 C1864.2 773.6 1836.7 773.6 1832 773.4 C1827.2 773.1 1822 771.3 1820.5 769.9 C1819 768.6 1817.2 762 1817.1 759.6 C1816.9 757.2 1815.6 747.5 1819.3 745.9 Z" fill="#C0505A" stroke="#000" stroke-width="2.2" stroke-linejoin="round" stroke-linecap="round"/>
<path d="M1785.5 740.1 C1785.6 745.7 1785.1 766.3 1786.1 773.4 C1787.2 780.4 1790.9 781 1791.8 782.5" fill="none" stroke="#B06A50" stroke-width="2" stroke-linejoin="round" stroke-linecap="round"/>
<path d="M1707 772.2 C1714.5 770.1 1738.8 763.1 1751.7 759.6 C1764.6 756.1 1778.9 752.4 1784.4 751" fill="none" stroke="#B06A50" stroke-width="2" stroke-linejoin="round" stroke-linecap="round"/>
<path d="M1779.2 813.5 C1780.6 813.2 1793.4 812.3 1795.3 810.1 C1797.1 807.9 1796.2 789.2 1801.6 787.1 C1807 785.1 1855.2 785.5 1860 785.4" fill="none" stroke="#B06A50" stroke-width="2" stroke-linejoin="round" stroke-linecap="round"/>
<path d="M2227 864.6 C2230.1 859.9 2274 850.8 2277.2 854 C2280.5 857.1 2276.7 907.5 2275.7 912.2 C2274.6 916.8 2264.4 923 2261.4 923.8 C2258.4 924.6 2233 927.8 2230.7 923.8 C2228.4 919.9 2223.9 869.2 2227 864.6 Z" fill="#FF9B63" stroke="#000" stroke-width="3" stroke-linejoin="round" stroke-linecap="round"/>
<path d="M2383.1 856.6 C2385.9 853.1 2432.4 865.8 2436 869.8 C2439.6 873.9 2437.7 913.8 2437 917.5 C2436.3 921.2 2428.3 925 2425.4 925.4 C2422.5 925.7 2396.5 927.3 2393.7 922.8 C2390.8 918.2 2380.2 860.1 2383.1 856.6 Z" fill="#FF9B63" stroke="#000" stroke-width="3" stroke-linejoin="round" stroke-linecap="round"/>
<path d="M2056.1 758.7 C2057.8 749.6 2060.1 746.5 2065.6 742.9 C2071.1 739.2 2081.8 733.3 2097.4 731.2 C2112.9 729.1 2149.6 727.2 2182 727 C2214.5 726.8 2298.4 729.6 2340.7 729.6 C2383.1 729.6 2467.7 726.6 2499.5 727 C2531.2 727.3 2564.7 728.7 2578.8 732.3 C2592.9 735.8 2600.7 744.3 2605.3 753.4 C2609.9 762.6 2613.2 786.2 2613.2 801.1 C2613.2 815.9 2607.8 849 2605.3 864.6 C2602.8 880.1 2598.2 901.9 2594.7 917.5 C2591.2 933 2583.1 966.8 2578.8 981 C2574.6 995.1 2567.9 1016.2 2563 1023.3 C2558 1030.3 2547.1 1034.6 2541.8 1033.9 C2536.5 1033.2 2528.9 1026.5 2523.3 1018 C2517.6 1009.5 2506.2 986.6 2499.5 970.4 C2492.8 954.1 2478.7 908.3 2473 896.3 C2467.4 884.3 2462.1 884 2457.1 880.4 C2452.2 876.9 2444.4 873.4 2436 869.8 C2427.5 866.3 2407.8 857.8 2393.7 854 C2379.5 850.1 2347.8 840.7 2330.2 840.7 C2312.5 840.7 2275.5 850.8 2261.4 854 C2247.3 857.1 2233.5 861.4 2224.3 864.6 C2215.2 867.7 2198.2 873.5 2192.6 877.8 C2186.9 882 2186.2 884 2182 896.3 C2177.8 908.6 2166.5 954.1 2160.8 970.4 C2155.2 986.6 2145.3 1009.5 2139.7 1018 C2134 1026.5 2123.6 1033.2 2118.5 1033.9 C2113.4 1034.6 2107.2 1035.3 2101.6 1023.3 C2095.9 1011.3 2081.7 965.1 2076.2 943.9 C2070.7 922.8 2063.5 882.2 2060.3 864.6 C2057.1 846.9 2052.9 825.7 2052.4 811.6 C2051.8 797.5 2054.3 767.9 2056.1 758.7 Z" fill="#FF9B63" stroke="#000" stroke-width="4" stroke-linejoin="round" stroke-linecap="round"/>
<path d="M2063 803.7 C2068.3 817.4 2084.1 861.9 2094.7 885.7 C2105.3 909.5 2115.4 946.6 2126.5 946.6 C2137.5 946.6 2149.4 909.5 2160.8 885.7 C2172.3 861.9 2189.5 817.4 2195.2 803.7" fill="none" stroke="#000" stroke-width="3.5" stroke-linejoin="round" stroke-linecap="round"/>
<path d="M2467.7 806.3 C2473.5 819.6 2490.7 862.6 2502.1 885.7 C2513.6 908.8 2525.5 945 2536.5 945 C2547.5 945 2558.1 909.3 2568.3 885.7 C2578.4 862.2 2592.5 817.4 2597.4 803.7" fill="none" stroke="#000" stroke-width="3.5" stroke-linejoin="round" stroke-linecap="round"/>
<line x1="2065.6" y1="827.5" x2="2107.9" y2="996.8" stroke="#000" stroke-width="3" stroke-linecap="round"/>
<line x1="2589.4" y1="832.8" x2="2552.4" y2="991.5" stroke="#000" stroke-width="3" stroke-linecap="round"/>
<line x1="2227" y1="732.3" x2="2219" y2="859.3" stroke="#000" stroke-width="3.5" stroke-linecap="round"/>
<line x1="2245.5" y1="732.3" x2="2240.2" y2="854" stroke="#000" stroke-width="3.5" stroke-linecap="round"/>
<line x1="2417.5" y1="732.3" x2="2422.8" y2="859.3" stroke="#000" stroke-width="3.5" stroke-linecap="round"/>
<line x1="2436" y1="732.3" x2="2446.6" y2="864.6" stroke="#000" stroke-width="3.5" stroke-linecap="round"/>
<ellipse cx="2330.2" cy="769.3" rx="74" ry="16" fill="#85878A" stroke="#000" stroke-width="3"/>
<ellipse cx="2330.2" cy="769.3" rx="58" ry="8" fill="#A9ABAE"/>
<line x1="2277.2" y1="769.3" x2="2382" y2="769.3" stroke="#000" stroke-width="3" stroke-linecap="round"/>
<path d="M2316.9 634.4 C2316.5 646.3 2313.4 683.3 2314.3 705.8 C2315.2 728.3 2320.9 758.7 2322.2 769.3" fill="none" stroke="#C9C4C0" stroke-width="3" stroke-linejoin="round" stroke-linecap="round"/>
<path d="M2355.6 645 C2353.5 655.1 2346.3 685.1 2343.4 705.8 C2340.5 726.5 2339 758.7 2338.1 769.3" fill="none" stroke="#C9C4C0" stroke-width="3" stroke-linejoin="round" stroke-linecap="round"/>
<line x1="2330.2" y1="814.3" x2="2330.2" y2="994.2" stroke="#000" stroke-width="4" stroke-linecap="round"/>
<path d="M2318.5 986.2 L2341.8 986.2 L2330.2 1006.3 Z" fill="#000" stroke="#000" stroke-width="2" stroke-linejoin="round" stroke-linecap="round"/>
<line x1="2539.2" y1="958.7" x2="2637" y2="946" stroke="#000" stroke-width="3" stroke-linecap="round"/>
<path d="M2626.5 938.6 L2647.6 945 L2629.1 953.4 Z" fill="#000" stroke="#000" stroke-width="2" stroke-linejoin="round" stroke-linecap="round"/>
<!-- art_lightlock -->
<defs><linearGradient id="gArc" gradientUnits="userSpaceOnUse" x1="2827" y1="0" x2="3435" y2="0"><stop offset="0" stop-color="#E6E2E6"/><stop offset="0.3" stop-color="#E9E6EB"/><stop offset="0.55" stop-color="#E6E3E9"/><stop offset="0.66" stop-color="#DEDADF"/><stop offset="1" stop-color="#DDD9DE"/></linearGradient><clipPath id="cpLL"><rect x="2820" y="800" width="615" height="463.4"/></clipPath></defs><g clip-path="url(#cpLL)">
<path d="M2827 1263 C2832.7 1248.6 2845.2 1206.2 2861 1176.5 C2876.8 1146.8 2901.7 1110.4 2922 1085 C2942.3 1059.6 2962.7 1041.8 2983 1024 C3003.3 1006.2 3023.7 991.2 3044 978 C3064.3 964.8 3084.7 954.4 3105 944.7 C3125.3 935 3145.7 927.6 3166 920 C3186.3 912.4 3206.7 905.6 3227 899 C3247.3 892.4 3267.7 885.7 3288 880.6 C3308.3 875.5 3324.5 872.5 3349 868.4 C3373.5 864.3 3413.2 858.7 3435 856 C3456.8 853.3 3472.5 852.7 3480 852 L3480 897 C3472.5 897.8 3456.8 898.2 3435 902 C3413.2 905.8 3373.5 914.4 3349 920 C3324.5 925.6 3308.3 929.8 3288 935.5 C3267.7 941.2 3247.3 947.4 3227 954 C3206.7 960.6 3186.3 966.9 3166 975 C3145.7 983.1 3125.3 991.9 3105 1002.6 C3084.7 1013.3 3064.3 1024.3 3044 1039 C3023.7 1053.7 3003.3 1068.6 2983 1091 C2962.7 1113.4 2939 1144.8 2922 1173.5 C2905 1202.2 2887.8 1248.1 2881 1263 Z" fill="url(#gArc)"/>
<path d="M3198 1263 C3202.8 1256.2 3212 1240 3227 1222 C3242 1204 3267.7 1173.8 3288 1155 C3308.3 1136.2 3324.5 1122.7 3349 1109 C3373.5 1095.3 3414.8 1080.8 3435 1073 C3455.2 1065.2 3464.2 1063.8 3470 1062" fill="none" stroke="#3E3735" stroke-width="7" stroke-linejoin="round" stroke-linecap="round"/>
<path d="M3274 1263 C3281.4 1254.7 3300.9 1229.5 3318.5 1213 C3336.1 1196.5 3360.1 1177.2 3379.5 1164 C3398.9 1150.8 3419.9 1141.3 3435 1134 C3450.1 1126.7 3464.2 1122.3 3470 1120" fill="none" stroke="#3E3735" stroke-width="7" stroke-linejoin="round" stroke-linecap="round"/>
</g>
<text x="3018" y="1128" font-size="128" fill="#5A5350" transform="rotate(-9 3018 1128)" textLength="362" lengthAdjust="spacingAndGlyphs">The Light</text>
<text x="2956" y="1254" font-size="128" fill="#5A5350" transform="rotate(-5 2956 1254)" textLength="226" lengthAdjust="spacingAndGlyphs">Lock</text>
<!-- art_bigwheel -->
<defs><clipPath id="cpBW"><rect x="1330" y="1186" width="850" height="1286"/></clipPath></defs>
<g clip-path="url(#cpBW)">
<line x1="1357" y1="2378" x2="1630" y2="2472" stroke="#000" stroke-width="5" stroke-linecap="round"/>
<line x1="1451" y1="2316" x2="1596" y2="2378" stroke="#000" stroke-width="5" stroke-linecap="round"/>
<line x1="1713" y1="2428" x2="1829" y2="2470" stroke="#000" stroke-width="5" stroke-linecap="round"/>
<path d="M1392 2355 L1392 2040 Q1392 1981 1440 1980 L1670 1991 L1670 2033 L1475 2025 Q1444 2025 1444 2055 L1440 2355 Q1440 2368 1416 2368 Q1392 2368 1392 2355 Z" fill="#B5B4AE" stroke="#000" stroke-width="5" stroke-linejoin="round" stroke-linecap="round"/>
<path d="M1640 1120 C1634.7 1131 1622.7 1156.2 1608 1186 C1593.3 1215.8 1569.5 1253.7 1552 1299 C1534.5 1344.3 1515.5 1409.5 1503 1458 C1490.5 1506.5 1483.7 1546.3 1477 1590 C1470.3 1633.7 1466 1680 1463 1720 C1460 1760 1458 1795.8 1459 1830 C1460 1864.2 1462.8 1888.3 1469 1925 C1475.2 1961.7 1485.8 2008.5 1496 2050 C1506.2 2091.5 1516 2136 1530 2174 C1544 2212 1559.2 2246.7 1580 2278 C1600.8 2309.3 1627.3 2341.2 1655 2362 C1682.7 2382.8 1717 2395.5 1746 2403 C1775 2410.5 1801.3 2411.8 1829 2407 C1856.7 2402.2 1887 2392 1912 2374 C1937 2356 1959.5 2332.3 1979 2299 C1998.5 2265.7 2015.8 2215.5 2029 2174 C2042.2 2132.5 2049.7 2091.5 2058 2050 C2066.3 2008.5 2074.2 1966.7 2079 1925 C2083.8 1883.3 2084.8 1844.8 2087 1800 C2089.2 1755.2 2092.5 1706.5 2092 1656 C2091.5 1605.5 2090 1549.8 2084 1497 C2078 1444.2 2066 1383.2 2056 1339 C2046 1294.8 2032.5 1257.5 2024 1232 C2015.5 1206.5 2011.5 1204.7 2005 1186 C1998.5 1167.3 1988.3 1131 1985 1120 Z M1765 1120 C1759.3 1131 1745.3 1162.8 1731 1186 C1716.7 1209.2 1695.7 1227 1679 1259 C1662.3 1291 1644.2 1338.3 1631 1378 C1617.8 1417.7 1607.8 1457.3 1600 1497 C1592.2 1536.7 1588.3 1576.3 1584 1616 C1579.7 1655.7 1576 1699.3 1574 1735 C1572 1770.7 1570.3 1798.3 1572 1830 C1573.7 1861.7 1578.5 1888.3 1584 1925 C1589.5 1961.7 1594.7 2008.5 1605 2050 C1615.3 2091.5 1629.5 2137.3 1646 2174 C1662.5 2210.7 1687.3 2247.7 1704 2270 C1720.7 2292.3 1730 2301.7 1746 2308 C1762 2314.3 1779.2 2316.3 1800 2308 C1820.8 2299.7 1848.8 2283.7 1871 2258 C1893.2 2232.3 1915 2195.7 1933 2154 C1951 2112.3 1967.2 2049.7 1979 2008 C1990.8 1966.3 1997 1938.7 2004 1904 C2011 1869.3 2016.3 1834.7 2021 1800 C2025.7 1765.3 2030.8 1733.2 2032 1696 C2033.2 1658.8 2031.3 1616.7 2028 1577 C2024.7 1537.3 2019.8 1496.3 2012 1458 C2004.2 1419.7 1990.5 1380 1981 1347 C1971.5 1314 1962.7 1286.8 1955 1260 C1947.3 1233.2 1940.8 1209.3 1935 1186 C1929.2 1162.7 1922.5 1131 1920 1120 Z" fill="#857F73" fill-rule="evenodd" stroke="#000" stroke-width="6" stroke-linejoin="round"/>
<path d="M1981 1347 C1986.2 1365.5 2004.2 1419.7 2012 1458 C2019.8 1496.3 2024.7 1537.3 2028 1577 C2031.3 1616.7 2033.2 1658.8 2032 1696 C2030.8 1733.2 2025.7 1765.3 2021 1800 C2016.3 1834.7 2011 1869.3 2004 1904 C1997 1938.7 1990.8 1966.3 1979 2008 C1967.2 2049.7 1951 2112.3 1933 2154 C1915 2195.7 1893.2 2232.3 1871 2258 C1848.8 2283.7 1811.8 2299.7 1800 2308 L1795 2298 C1806.2 2289.7 1840.8 2273 1862 2248 C1883.2 2223 1904.5 2188.7 1922 2148 C1939.5 2107.3 1955.3 2045 1967 2004 C1978.7 1963 1985 1936 1992 1902 C1999 1868 2004.3 1834.3 2009 1800 C2013.7 1765.7 2018.8 1732.7 2020 1696 C2021.2 1659.3 2019.2 1619 2016 1580 C2012.8 1541 2008.3 1500 2001 1462 C1993.7 1424 1976.8 1370.3 1972 1352 Z" fill="#A9B5C0" stroke="#000" stroke-width="3" stroke-linejoin="round" stroke-linecap="round"/>
<line x1="1700.6" y1="1656.8" x2="2020.2" y2="1760.9" stroke="#000" stroke-width="3" stroke-linecap="round"/>
<line x1="1772.3" y1="1679" x2="2011.8" y2="1851.6" stroke="#000" stroke-width="3" stroke-linecap="round"/>
<line x1="1696" y1="1678.5" x2="1998.2" y2="1939.2" stroke="#000" stroke-width="3" stroke-linecap="round"/>
<line x1="1764.4" y1="1699.7" x2="1979.6" y2="2021.4" stroke="#000" stroke-width="3" stroke-linecap="round"/>
<line x1="1707" y1="1659.3" x2="1956.7" y2="2096.3" stroke="#000" stroke-width="3" stroke-linecap="round"/>
<line x1="1778.3" y1="1682.5" x2="1929.9" y2="2161.9" stroke="#000" stroke-width="3" stroke-linecap="round"/>
<line x1="1690.6" y1="1674.1" x2="1899.9" y2="2216.7" stroke="#000" stroke-width="3" stroke-linecap="round"/>
<line x1="1759.8" y1="1694.6" x2="1867.4" y2="2259.3" stroke="#000" stroke-width="3" stroke-linecap="round"/>
<line x1="1710.8" y1="1665.1" x2="1833.3" y2="2288.7" stroke="#000" stroke-width="3" stroke-linecap="round"/>
<line x1="1781.1" y1="1688.8" x2="1798.3" y2="2304.1" stroke="#000" stroke-width="3" stroke-linecap="round"/>
<line x1="1688.8" y1="1667.4" x2="1763.4" y2="2305.2" stroke="#000" stroke-width="3" stroke-linecap="round"/>
<line x1="1759" y1="1687.7" x2="1729.4" y2="2292" stroke="#000" stroke-width="3" stroke-linecap="round"/>
<line x1="1710.5" y1="1672" x2="1697.2" y2="2264.7" stroke="#000" stroke-width="3" stroke-linecap="round"/>
<line x1="1779.7" y1="1695.6" x2="1667.4" y2="2224" stroke="#000" stroke-width="3" stroke-linecap="round"/>
<line x1="1691.3" y1="1661" x2="1641" y2="2171" stroke="#000" stroke-width="3" stroke-linecap="round"/>
<line x1="1762.5" y1="1681.7" x2="1618.4" y2="2106.9" stroke="#000" stroke-width="3" stroke-linecap="round"/>
<line x1="1706.1" y1="1677.4" x2="1600.3" y2="2033.4" stroke="#000" stroke-width="3" stroke-linecap="round"/>
<line x1="1774.6" y1="1700.2" x2="1587.2" y2="1952.1" stroke="#000" stroke-width="3" stroke-linecap="round"/>
<line x1="1697.1" y1="1657.2" x2="1579.2" y2="1865.2" stroke="#000" stroke-width="3" stroke-linecap="round"/>
<line x1="1768.8" y1="1678.9" x2="1576.8" y2="1774.8" stroke="#000" stroke-width="3" stroke-linecap="round"/>
<line x1="1699.4" y1="1679.2" x2="1579.8" y2="1683.1" stroke="#000" stroke-width="3" stroke-linecap="round"/>
<line x1="1767.7" y1="1701" x2="1588.2" y2="1592.4" stroke="#000" stroke-width="3" stroke-linecap="round"/>
<line x1="1704" y1="1657.5" x2="1601.8" y2="1504.8" stroke="#000" stroke-width="3" stroke-linecap="round"/>
<line x1="1775.6" y1="1680.3" x2="1620.4" y2="1422.6" stroke="#000" stroke-width="3" stroke-linecap="round"/>
<line x1="1693" y1="1676.7" x2="1643.3" y2="1347.7" stroke="#000" stroke-width="3" stroke-linecap="round"/>
<line x1="1761.7" y1="1697.5" x2="1670.1" y2="1282.1" stroke="#000" stroke-width="3" stroke-linecap="round"/>
<line x1="1709.4" y1="1661.9" x2="1700.1" y2="1227.3" stroke="#000" stroke-width="3" stroke-linecap="round"/>
<line x1="1780.2" y1="1685.4" x2="1732.6" y2="1184.7" stroke="#000" stroke-width="3" stroke-linecap="round"/>
<line x1="1689.2" y1="1670.9" x2="1766.7" y2="1155.3" stroke="#000" stroke-width="3" stroke-linecap="round"/>
<line x1="1758.9" y1="1691.2" x2="1801.7" y2="1139.9" stroke="#000" stroke-width="3" stroke-linecap="round"/>
<line x1="1711.2" y1="1668.6" x2="1836.6" y2="1138.8" stroke="#000" stroke-width="3" stroke-linecap="round"/>
<line x1="1781" y1="1692.3" x2="1870.6" y2="1152" stroke="#000" stroke-width="3" stroke-linecap="round"/>
<line x1="1689.5" y1="1664" x2="1902.8" y2="1179.3" stroke="#000" stroke-width="3" stroke-linecap="round"/>
<line x1="1760.3" y1="1684.4" x2="1932.6" y2="1220" stroke="#000" stroke-width="3" stroke-linecap="round"/>
<line x1="1708.7" y1="1675" x2="1959" y2="1273" stroke="#000" stroke-width="3" stroke-linecap="round"/>
<line x1="1777.5" y1="1698.3" x2="1981.6" y2="1337.1" stroke="#000" stroke-width="3" stroke-linecap="round"/>
<line x1="1693.9" y1="1658.6" x2="1999.7" y2="1410.6" stroke="#000" stroke-width="3" stroke-linecap="round"/>
<line x1="1765.4" y1="1679.8" x2="2012.8" y2="1491.9" stroke="#000" stroke-width="3" stroke-linecap="round"/>
<line x1="1702.9" y1="1678.8" x2="2020.8" y2="1578.8" stroke="#000" stroke-width="3" stroke-linecap="round"/>
<line x1="1771.2" y1="1701.1" x2="2023.2" y2="1669.2" stroke="#000" stroke-width="3" stroke-linecap="round"/>
<path d="M1794.1 1186 L1675.1 1596.5 L1675.1 1596.5 C1672.7 1603.4 1659.8 1637.5 1657.3 1648.1 C1654.7 1658.6 1654.7 1669.2 1656.1 1675.8 C1657.4 1682.4 1662.8 1693.7 1667.2 1697.7 C1671.6 1701.6 1683.4 1705.6 1689 1705.6 C1694.5 1705.6 1704.6 1701.4 1708.8 1697.7 C1713 1693.9 1720.5 1681.5 1720.7 1677.8 C1721 1674.1 1713.7 1668.8 1710.8 1669.9 C1707.9 1670.9 1702.1 1683.9 1698.9 1685.8 C1695.7 1687.6 1689.6 1685.6 1687 1683.8 C1684.4 1681.9 1680.1 1676.6 1679.1 1671.9 C1678 1667.1 1676.4 1655.5 1679.1 1648.1 C1681.7 1640.7 1696.3 1620.6 1698.9 1616.3 L1730.6 1628.2 L1859.6 1186 Z" fill="#8AD8F3" stroke="#000" stroke-width="6" stroke-linejoin="round" stroke-linecap="round"/>
<path d="M1679.1 1628.2 C1682 1622.9 1694.4 1617.4 1698.9 1616.3 C1703.4 1615.3 1709.1 1616.9 1712.8 1620.3 C1716.5 1623.7 1721.6 1637.6 1726.7 1642.1 C1731.7 1646.6 1745.7 1651.6 1750.5 1654 C1755.2 1656.4 1758.1 1660 1762.4 1660 C1766.6 1660 1780.4 1647.7 1782.2 1654 C1784.1 1660.4 1778.9 1702 1776.3 1707.6 C1773.6 1713.1 1765.8 1700.4 1762.4 1695.7 C1758.9 1690.9 1755.8 1674.5 1750.5 1671.9 C1745.2 1669.2 1728 1673.7 1722.7 1675.8 C1717.4 1678 1715.6 1686.7 1710.8 1687.7 C1706 1688.8 1691.5 1688 1687 1683.8 C1682.5 1679.5 1678.1 1663.4 1677.1 1656 C1676 1648.6 1676.2 1633.5 1679.1 1628.2 Z" fill="#C79B78" stroke="#000" stroke-width="4" stroke-linejoin="round" stroke-linecap="round"/>
<path d="M1964.7 1186 C1956.3 1209.2 1900 1369 1881.4 1418 C1862.7 1467 1793.7 1634.6 1778.2 1675.8 C1762.8 1717 1742.4 1794.4 1726.7 1830.1 C1711 1865.9 1635.5 2003.5 1621.2 2033 C1606.9 2062.4 1588.3 2112.4 1583.8 2124.5 C1579.3 2136.6 1576.7 2148.6 1576.3 2153.6 C1575.9 2158.6 1577.6 2170.9 1579.6 2174.4 C1581.6 2178 1594.6 2187.5 1596.3 2189 L1629.6 2184.8 C1628.7 2183.8 1622.6 2177.1 1621.2 2174.4 C1619.9 2171.7 1615.4 2163.6 1616.2 2157.8 C1617.1 2152 1624.9 2127 1629.6 2116.2 C1634.2 2105.4 1658 2058.8 1662.8 2049.6 C1667.6 2040.5 1674.5 2028 1677.4 2024.7 C1680.3 2021.3 1689.3 2018.8 1692 2016.3 C1694.7 2013.8 1699 2010.9 1704.4 1999.7 C1709.8 1988.5 1737.3 1924 1746 1904 C1754.8 1884 1784.2 1815.3 1791.8 1800 C1799.4 1784.7 1817.2 1760 1821.9 1751.2 C1826.6 1742.4 1836.7 1718.7 1838.9 1711.5 C1841.2 1704.4 1842.4 1688.5 1844.5 1679.8 C1846.5 1671.1 1851.5 1646.5 1859.6 1624.3 C1867.6 1602.1 1909.7 1494.2 1925 1457.7 C1940.3 1421.2 2000.4 1286.5 2012.3 1259.3 C2024.2 1232.2 2040.8 1193.3 2044 1186 Z" fill="#8AD8F3" stroke="#000" stroke-width="6" stroke-linejoin="round" stroke-linecap="round"/>
<circle cx="1813.9" cy="1683.8" r="15" fill="#E6F0F5" stroke="#8A9AA8" stroke-width="3"/><circle cx="1813.9" cy="1683.8" r="6" fill="#8FB3C8"/>
<path d="M1600.4 2189 C1606.8 2186.5 1640.6 2195.2 1654.5 2199.4 C1668.4 2203.6 1692.2 2216.2 1704.4 2220.2 C1716.6 2224.2 1736.1 2229.2 1746 2229.4 C1756 2229.5 1772.7 2223.1 1779.3 2221 C1786 2219 1792.1 2212.1 1796 2214 C1799.9 2215.8 1807.3 2229.5 1808.4 2234.8 C1809.6 2240 1809.8 2249 1804.3 2253.5 C1798.7 2257.9 1780.2 2266.1 1766.8 2268 C1753.5 2270 1719.4 2270.5 1704.4 2268 C1689.5 2265.6 1667.5 2256 1654.5 2249.3 C1641.5 2242.7 1613.9 2226.2 1606.7 2218.1 C1599.5 2210.1 1594 2191.5 1600.4 2189 Z" fill="#8BBFD9" stroke="#000" stroke-width="5" stroke-linejoin="round" stroke-linecap="round"/>
<path d="M1635.8 2116.2 C1637.5 2121 1643.4 2135.6 1646.2 2145.3 C1649 2155 1651.4 2169.6 1652.4 2174.4" fill="none" stroke="#000" stroke-width="9" stroke-linejoin="round" stroke-linecap="round"/>
<path d="M1646.2 2449 C1646.3 2428.7 1649.1 2289.3 1650.4 2257.6 C1651.6 2226 1657 2151.6 1658.7 2132.8 C1660.3 2114.1 1664.5 2080.8 1667 2070.4 C1669.5 2060 1677.8 2035.9 1683.6 2028.8 C1689.5 2021.8 1695.7 2000.9 1725.2 1999.7 C1754.8 1998.5 1948.7 2012.6 1979 2016.3 C2009.4 2020.1 2021 2031.7 2029 2037.1 C2036.9 2042.6 2053.5 2060.9 2058.1 2070.4 C2062.7 2080 2071.2 2114.1 2074.7 2132.8 C2078.3 2151.6 2092 2243.9 2093.4 2257.6 C2094.9 2271.4 2091.1 2268.5 2089.3 2270.1 C2087.4 2271.7 2077.8 2273.7 2074.7 2273.5 C2071.6 2273.2 2059.9 2269.2 2058.1 2268 C2056.2 2266.9 2058.1 2275.3 2056 2261.8 C2053.9 2248.3 2040.8 2150.7 2037.3 2132.8 C2033.7 2114.9 2024.8 2090.4 2020.6 2082.9 C2016.5 2075.4 2023.1 2062.5 1995.7 2057.9 C1968.2 2053.4 1773.9 2038 1746 2037.1 C1718.2 2036.3 1720.9 2045 1716.9 2049.6 C1713 2054.2 1708 2070.4 1706.5 2082.9 C1705.1 2095.4 1703.4 2152.8 1702.4 2174.4 C1701.3 2196.1 1697.1 2271.8 1696.1 2299.3 C1695.2 2326.7 1693.4 2432.9 1692.8 2449 C1692.2 2465.2 1691.6 2459 1690.3 2460.7 C1689 2462.3 1682.4 2465.2 1679.5 2465.7 C1676.5 2466.2 1663.7 2466.2 1660.8 2465.7 C1657.8 2465.2 1651 2462.3 1649.5 2460.7 C1648.1 2459 1646.1 2469.3 1646.2 2449 Z" fill="#B5B4AE" stroke="#000" stroke-width="5" stroke-linejoin="round" stroke-linecap="round"/>
<path d="M1660.8 2176.5 C1663.2 2180.3 1669.1 2193.2 1675.3 2199.4 C1681.6 2205.6 1694.4 2211.5 1698.2 2214" fill="none" stroke="#000" stroke-width="4" stroke-linejoin="round" stroke-linecap="round" stroke-dasharray="12 8"/>
<path d="M1658.7 2257.6 C1661.4 2258.7 1669.1 2262.2 1675.3 2263.9 C1681.6 2265.6 1692.7 2267.4 1696.1 2268" fill="none" stroke="#000" stroke-width="4" stroke-linejoin="round" stroke-linecap="round" stroke-dasharray="12 8"/>
</g>
<!-- art_smallfork -->
<g transform="rotate(12.2 2227.1 1812.7)"><path d="M2135.1 1812.7 a92 246 0 1 0 184 0 a92 246 0 1 0 -184 0 Z M2168.1 1815.7 a59 198 0 1 0 118 0 a59 198 0 1 0 -118 0 Z" fill="#857F73" fill-rule="evenodd" stroke="#000" stroke-width="5"/></g>
<path d="M2343.7 1288.9 L2374.9 1296.7 L2338.6 1444.5 L2302.3 1439.3 Z" fill="#8AD8F3" stroke="#000" stroke-width="5" stroke-linejoin="round" stroke-linecap="round"/>
<path d="M2302.3 1439.3 C2296.6 1437.8 2274.8 1426.3 2271.1 1426.3 C2267.5 1426.3 2265.3 1420.5 2258.2 1439.3 C2251 1458.1 2191.4 1633.1 2185.6 1651.9 C2179.7 1670.7 2186.9 1664.4 2188.2 1664.9 C2189.5 1665.3 2194 1673.5 2201.1 1657.1 C2208.3 1640.7 2267 1484.7 2273.7 1467.8 C2280.4 1451 2277.4 1455.9 2281.5 1454.8 C2285.6 1453.8 2318 1453.3 2323 1454.8 C2328 1456.4 2339.6 1469.8 2341.1 1473 C2342.7 1476.2 2351.1 1463.5 2341.1 1493.7 C2331.2 1524 2231.6 1806.2 2221.9 1836 C2212.1 1865.8 2223.3 1851.4 2224.5 1851.6 C2225.6 1851.8 2225 1868 2235.9 1838.6 C2246.8 1809.2 2345.1 1529.4 2355.1 1498.9 C2365.2 1468.5 2358.1 1477.5 2356.7 1473 C2355.3 1468.5 2343.1 1447.3 2338.6 1444.5 C2334 1441.7 2307.9 1440.8 2302.3 1439.3 Z" fill="#8AD8F3" stroke="#000" stroke-width="5" stroke-linejoin="round" stroke-linecap="round"/>
<path d="M2247.8 1786.7 C2249 1786.1 2256.4 1799.7 2258.2 1804.9 C2259.9 1810.1 2262.1 1820.8 2260.8 1825.6 C2259.4 1830.5 2251.6 1838.8 2247.8 1841.2 C2244 1843.6 2232.6 1845.5 2232.2 1843.8 C2231.9 1842.1 2242.9 1832.7 2245.2 1828.2 C2247.5 1823.7 2249 1815.6 2249.4 1810.1 C2249.7 1804.5 2246.6 1787.4 2247.8 1786.7 Z" fill="#F26A2E" stroke="#000" stroke-width="4" stroke-linejoin="round" stroke-linecap="round"/>
<defs><clipPath id="cpSF"><path d="M2278.9 1556 L2346.3 1556 L2346.3 1683 L2282.5 1683 Z"/></clipPath></defs>
<g clip-path="url(#cpSF)"><g transform="rotate(12.2 2227.1 1812.7)"><path d="M2135.1 1812.7 a92 246 0 1 0 184 0 a92 246 0 1 0 -184 0 Z M2168.1 1815.7 a59 198 0 1 0 118 0 a59 198 0 1 0 -118 0 Z" fill="#857F73" fill-rule="evenodd" stroke="#000" stroke-width="5"/></g></g>
<!-- art_mech1 -->
<path d="M2696.4 1283.7 C2694.3 1280.3 2676.7 1283.9 2670.5 1286.3 C2664.2 1288.7 2653.5 1296.3 2649.7 1301.9 C2645.9 1307.4 2642.6 1320.9 2641.9 1327.8 C2641.2 1334.7 2641.8 1346.1 2644.5 1353.7 C2647.3 1361.3 2658.5 1384.8 2662.7 1384.8 C2666.8 1384.8 2672.5 1363.4 2675.6 1353.7 C2678.7 1344 2683.2 1321.6 2686 1312.2 C2688.8 1302.9 2698.5 1287.2 2696.4 1283.7 Z" fill="#C9C9C9" stroke="#000" stroke-width="4" stroke-linejoin="round" stroke-linecap="round"/>
<path d="M2645.6 1311.2 L2660.1 1313.3 L2659 1327.8 L2644.5 1326.8" fill="none" stroke="#000" stroke-width="3" stroke-linejoin="round" stroke-linecap="round"/>
<circle cx="2576.6" cy="1658.8" r="40" fill="#C9C9C9" stroke="#000" stroke-width="3"/>
<path d="M2633.6 1547.9 C2634.8 1550.3 2642.5 1570.1 2645.5 1571.9 C2648.5 1573.7 2659.9 1565 2663.5 1565.9 C2667.1 1566.8 2678.2 1580 2681.5 1580.9 C2684.8 1581.8 2693.5 1574 2696.5 1574.9 C2699.5 1575.8 2708.2 1588.4 2711.5 1589.9 C2714.8 1591.4 2727.6 1589.9 2729.4 1589.9 L2633.6 1853.6 L2582.6 1961.5 L2447.8 2219.2 L2447.8 2219.2 C2444.6 2229.6 2428.6 2284.9 2423.8 2297.1 C2419 2309.2 2416.6 2305 2411.8 2310.3 C2407 2315.5 2394.6 2330.2 2387.8 2336.6 C2381 2343 2368.1 2354.4 2360.9 2358.2 C2353.7 2362 2340.5 2367 2333.9 2365.4 C2327.3 2363.8 2315.7 2352.8 2311.1 2346.2 C2306.6 2339.7 2301.5 2324.4 2299.7 2316.3 C2298 2308.1 2297.4 2293.2 2297.9 2285.1 C2298.5 2276.9 2303.1 2259.1 2303.9 2255.1 Z" fill="#92D9F4"/>
<path d="M2633.6 1547.9 L2303.9 2255.1 L2303.9 2255.1 C2302.9 2260.1 2298.6 2274.9 2297.9 2285.1 C2297.2 2295.3 2297.5 2306.1 2299.7 2316.3 C2301.9 2326.4 2305.4 2338 2311.1 2346.2 C2316.8 2354.4 2325.6 2363.4 2333.9 2365.4 C2342.2 2367.4 2351.9 2363 2360.9 2358.2 C2369.9 2353.4 2379.3 2344.6 2387.8 2336.6 C2396.3 2328.6 2405.8 2316.9 2411.8 2310.3 C2417.8 2303.7 2421.8 2299.3 2423.8 2297.1" fill="none" stroke="#000" stroke-width="7" stroke-linejoin="round" stroke-linecap="round"/>
<path d="M2729.4 1589.9 L2633.6 1853.6" fill="none" stroke="#000" stroke-width="5" stroke-linejoin="round" stroke-linecap="round"/>
<path d="M2531.7 1937.5 L2582.6 1961.5 L2447.8 2219.2 L2407 2196.4 L2531.7 1937.5" fill="#9BDCF5" stroke="#000" stroke-width="4" stroke-linejoin="round" stroke-linecap="round"/>
<path d="M2582.6 1961.5 L2594.6 1931.5" fill="none" stroke="#000" stroke-width="3" stroke-linejoin="round" stroke-linecap="round"/>
<line x1="2600.6" y1="1634.8" x2="2561.6" y2="1739.7" stroke="#000" stroke-width="4" stroke-linecap="round"/>
<line x1="2626.4" y1="1640.8" x2="2591.6" y2="1751.7" stroke="#000" stroke-width="4" stroke-linecap="round"/>
<line x1="2669.5" y1="1658.8" x2="2645.5" y2="1763.7" stroke="#000" stroke-width="4" stroke-linecap="round"/>
<line x1="2696.5" y1="1658.8" x2="2663.5" y2="1769.7" stroke="#000" stroke-width="4" stroke-linecap="round"/>
<ellipse cx="2600.6" cy="1754.7" rx="42" ry="14" transform="rotate(15 2600.6 1754.7)" fill="none" stroke="#000" stroke-width="4"/>
<ellipse cx="2615.6" cy="1721.7" rx="26" ry="17" transform="rotate(15 2615.6 1721.7)" fill="none" stroke="#000" stroke-width="5"/>
<ellipse cx="2609.6" cy="1739.7" rx="65" ry="95" transform="rotate(20 2609.6 1739.7)" fill="none" stroke="#7A9AA8" stroke-width="2.5" stroke-dasharray="8 8"/>
<path d="M2585.6 1763.7 C2582.6 1775.7 2576.6 1818.6 2567.6 1835.6 C2558.6 1852.6 2541.7 1855.6 2531.7 1865.6 C2521.7 1875.6 2510.2 1885.6 2507.7 1895.5 C2505.2 1905.5 2519.7 1915.5 2516.7 1925.5 C2513.7 1935.5 2493.2 1946.5 2489.7 1955.5 C2486.2 1964.5 2492.2 1972 2495.7 1979.4 C2499.2 1986.9 2508.2 1996.9 2510.7 2000.4" fill="none" stroke="#000" stroke-width="11" stroke-linejoin="round" stroke-linecap="round"/>
<path d="M2585.6 1763.7 C2582.6 1775.7 2576.6 1818.6 2567.6 1835.6 C2558.6 1852.6 2541.7 1855.6 2531.7 1865.6 C2521.7 1875.6 2510.2 1885.6 2507.7 1895.5 C2505.2 1905.5 2519.7 1915.5 2516.7 1925.5 C2513.7 1935.5 2493.2 1946.5 2489.7 1955.5 C2486.2 1964.5 2492.2 1972 2495.7 1979.4 C2499.2 1986.9 2508.2 1996.9 2510.7 2000.4" fill="none" stroke="#9BDCF5" stroke-width="5" stroke-linejoin="round" stroke-linecap="round"/>
<path d="M2596.4 1895.5 C2598.2 1890.9 2602.8 1870.5 2608.4 1864.4 C2614 1858.3 2625.5 1851.9 2633.6 1854.8 C2641.6 1857.7 2655 1869.4 2662.3 1883.6 C2669.7 1897.8 2678 1926.1 2682.7 1949.5 C2687.4 1972.9 2695.5 2003.4 2693.5 2039.4 C2691.5 2075.3 2682.1 2153.2 2669.5 2189.2 C2656.9 2225.2 2632.1 2259.3 2609.6 2279.1 C2587.1 2298.9 2546.7 2317.5 2519.7 2321 C2492.7 2324.6 2449.1 2308 2429.8 2303.1 C2410.5 2298.1 2398.7 2293 2390.8 2288.1 C2382.9 2283.1 2377.5 2275.8 2377.1 2270.1 C2376.6 2264.4 2386.2 2253.3 2387.8 2250.3 L2429.8 2253.9 C2437 2249.8 2466 2225.3 2477.7 2226.4 C2489.4 2227.4 2498.7 2262.2 2507.7 2261.1 C2516.7 2260 2526 2238.9 2537.7 2219.2 C2549.4 2199.4 2574.8 2160.7 2585.6 2129.3 C2596.4 2097.8 2607.8 2038.2 2609.6 2009.4 C2611.4 1980.6 2599.6 1954.6 2597.6 1937.5 C2595.6 1920.4 2596.6 1901.8 2596.4 1895.5 Z" fill="#F96B2D"/>
<path d="M2645.5 1859.6 C2649.6 1868.6 2665.3 1892.5 2672.5 1919.5 C2679.7 1946.5 2693.9 1998.9 2693.5 2039.4 C2693 2079.8 2682.1 2153.2 2669.5 2189.2 C2656.9 2225.2 2632.1 2259.3 2609.6 2279.1 C2587.1 2298.9 2546.7 2317.5 2519.7 2321 C2492.7 2324.6 2443.3 2305.8 2429.8 2303.1 L2447.8 2291.1 C2458.6 2292.9 2497.7 2307.1 2519.7 2303.1 C2541.7 2299 2575 2282.1 2594.6 2264.1 C2614.2 2246.1 2638.6 2216.9 2650.3 2183.2 C2662 2149.5 2672.2 2078 2672.5 2039.4 C2672.9 2000.7 2659 1951.6 2652.7 1925.5 C2646.4 1899.4 2633.9 1874.6 2630.6 1865.6 Z" fill="#BC4A57"/>
<path d="M2596.4 1895.5 C2598.2 1890.9 2602.8 1870.5 2608.4 1864.4 C2614 1858.3 2625.5 1851.9 2633.6 1854.8 C2641.6 1857.7 2655 1869.4 2662.3 1883.6 C2669.7 1897.8 2678 1926.1 2682.7 1949.5 C2687.4 1972.9 2695.5 2003.4 2693.5 2039.4 C2691.5 2075.3 2682.1 2153.2 2669.5 2189.2 C2656.9 2225.2 2632.1 2259.3 2609.6 2279.1 C2587.1 2298.9 2546.7 2317.5 2519.7 2321 C2492.7 2324.6 2449.1 2308 2429.8 2303.1 C2410.5 2298.1 2398.7 2293 2390.8 2288.1 C2382.9 2283.1 2377.5 2275.8 2377.1 2270.1 C2376.6 2264.4 2386.2 2253.3 2387.8 2250.3 L2429.8 2253.9 C2437 2249.8 2466 2225.3 2477.7 2226.4 C2489.4 2227.4 2498.7 2262.2 2507.7 2261.1 C2516.7 2260 2526 2238.9 2537.7 2219.2 C2549.4 2199.4 2574.8 2160.7 2585.6 2129.3 C2596.4 2097.8 2607.8 2038.2 2609.6 2009.4 C2611.4 1980.6 2599.6 1954.6 2597.6 1937.5 C2595.6 1920.4 2596.6 1901.8 2596.4 1895.5 Z" fill="none" stroke="#000" stroke-width="7" stroke-linejoin="round" stroke-linecap="round"/>
<line x1="2511.9" y1="2010.6" x2="2507.7" y2="2243.1" stroke="#000" stroke-width="50" stroke-linecap="round"/>
<line x1="2511.9" y1="2010.6" x2="2507.7" y2="2243.1" stroke="#454142" stroke-width="40" stroke-linecap="round"/>
<circle cx="2511.9" cy="2010.6" r="8" fill="#fff" stroke="#000" stroke-width="4"/>
<circle cx="2507.7" cy="2243.1" r="8" fill="#fff" stroke="#000" stroke-width="4"/>
<circle cx="2410.6" cy="2273.1" r="13" fill="#E8EEF2" stroke="#000" stroke-width="4"/><circle cx="2410.6" cy="2273.1" r="6" fill="none" stroke="#000" stroke-width="2.5"/>
<path d="M2447.8 2366 C2446.3 2359.5 2443.8 2338 2438.8 2327 C2433.8 2316.1 2417.3 2305.1 2417.8 2300.1 C2418.3 2295.1 2437.8 2297.6 2441.8 2297.1" fill="none" stroke="#000" stroke-width="3.5" stroke-linejoin="round" stroke-linecap="round"/>
<path d="M2495.7 2363 C2498.7 2356 2511.2 2335.5 2513.7 2321 C2516.2 2306.6 2511.2 2283.6 2510.7 2276.1" fill="none" stroke="#000" stroke-width="3.5" stroke-linejoin="round" stroke-linecap="round"/>
<path d="M2501.7 2285.1 L2510.7 2274.3 L2520.9 2286.3" fill="none" stroke="#000" stroke-width="3.5" stroke-linejoin="round" stroke-linecap="round"/>
<path d="M2561.5 1418.5 C2565 1412.1 2571.1 1391.3 2582.3 1379.6 C2593.5 1368 2621.2 1353.7 2629 1348.5" fill="none" stroke="#000" stroke-width="4" stroke-linejoin="round" stroke-linecap="round"/>
<path d="M2618.6 1345.9 L2631.6 1347.5 L2623.8 1358.9 Z" fill="#000" stroke="#000" stroke-width="3" stroke-linejoin="round" stroke-linecap="round"/>
<path d="M2546 1504.1 C2545.6 1511.9 2539.5 1533.5 2543.4 1550.8 C2547.3 1568.1 2565 1598.3 2569.3 1607.8" fill="none" stroke="#000" stroke-width="4" stroke-linejoin="round" stroke-linecap="round"/>
<path d="M2559 1600 L2571.9 1608.9 L2571.9 1593.3 Z" fill="#000" stroke="#000" stroke-width="3" stroke-linejoin="round" stroke-linecap="round"/>
<path d="M2663.5 1763.7 C2668.5 1758.7 2679 1741.2 2693.5 1733.7 C2708 1726.2 2740.9 1721.2 2750.4 1718.7" fill="none" stroke="#000" stroke-width="3.5" stroke-linejoin="round" stroke-linecap="round"/>
<path d="M2741.4 1712.8 L2754.6 1718.1 L2744.4 1726.5 Z" fill="#000" stroke="#000" stroke-width="3" stroke-linejoin="round" stroke-linecap="round"/>
<!-- art_mech2 -->
<path d="M3192.2 1473.2 C3194.4 1475 3209 1490.9 3213.6 1491.5 C3218.2 1492.1 3233.1 1479.3 3238 1479.3 C3242.9 1479.3 3257.5 1491.2 3262.4 1491.5 C3267.3 1491.8 3282.2 1481.7 3286.8 1482.3 C3291.4 1483 3303.9 1497.6 3308.1 1497.6 C3312.4 1497.6 3327.3 1483.9 3329.5 1482.3 L3140.4 1827 L3086.7 1809.9 L2957.4 2040.5 L2957.4 2058.8 L2984.8 2071 L2975.7 2095.4 L2975.7 2095.4 C2970 2101.8 2946.1 2123.9 2937.9 2138.1 C2929.6 2152.3 2927.5 2176.7 2920.8 2189.9 C2914.1 2203.2 2902 2217.6 2893.3 2226.5 C2884.7 2235.4 2871.5 2246.6 2862.8 2249.1 C2854.2 2251.6 2840.8 2247.3 2835.4 2243 C2830 2238.7 2826.9 2227.9 2826.9 2220.4 C2826.9 2212.9 2834.1 2197.1 2835.4 2193 Z" fill="#8AD8F3"/>
<path d="M3192.2 1473.2 L2835.4 2193 L2835.4 2193 C2834 2197.5 2826.9 2212.1 2826.9 2220.4 C2826.9 2228.8 2829.4 2238.2 2835.4 2243 C2841.4 2247.8 2853.2 2251.8 2862.8 2249.1 C2872.5 2246.3 2883.7 2236.4 2893.3 2226.5 C2903 2216.7 2913.4 2204.7 2920.8 2189.9 C2928.2 2175.2 2935 2146.7 2937.9 2138.1" fill="none" stroke="#000" stroke-width="7" stroke-linejoin="round" stroke-linecap="round"/>
<path d="M3329.5 1482.3 L3140.4 1827 L3086.7 1809.9 L2957.4 2040.5 L2957.4 2058.8 L2984.8 2071 L2975.7 2095.4" fill="none" stroke="#000" stroke-width="6" stroke-linejoin="round" stroke-linecap="round"/>
<line x1="3149.5" y1="1616.5" x2="3106.8" y2="1717.2" stroke="#000" stroke-width="4" stroke-linecap="round"/>
<line x1="3201.4" y1="1644" x2="3170.9" y2="1729.4" stroke="#000" stroke-width="4" stroke-linecap="round"/>
<ellipse cx="3140.4" cy="1695.8" rx="28" ry="13" transform="rotate(18 3140.4 1695.8)" fill="none" stroke="#000" stroke-width="3"/>
<ellipse cx="3131.2" cy="1726.3" rx="28" ry="13" transform="rotate(18 3131.2 1726.3)" fill="none" stroke="#000" stroke-width="3"/>
<path d="M3125.1 1729.4 L2994 1961.2 L2990.9 2000.8" fill="none" stroke="#000" stroke-width="2.5" stroke-linejoin="round" stroke-linecap="round"/>
<path d="M3132.5 1729.4 L3001.3 1961.2 L2998.3 2000.8" fill="none" stroke="#000" stroke-width="2.5" stroke-linejoin="round" stroke-linecap="round"/>
<path d="M3139.8 1729.4 L3008.6 1961.2 L3005.6 2000.8" fill="none" stroke="#000" stroke-width="2.5" stroke-linejoin="round" stroke-linecap="round"/>
<path d="M3125.1 1759.9 L3100.7 1799.5" fill="none" stroke="#000" stroke-width="3" stroke-linejoin="round" stroke-linecap="round"/>
<path d="M2981.8 1958.1 C2975.7 1962.7 2951.8 1974.9 2945.2 1985.6 C2938.6 1996.3 2939.6 2013 2942.1 2022.2 C2944.7 2031.3 2957.4 2037.4 2960.4 2040.5" fill="none" stroke="#000" stroke-width="4" stroke-linejoin="round" stroke-linecap="round" stroke-dasharray="10 10"/>
<circle cx="2990.9" cy="2000.8" r="20" fill="none" stroke="#000" stroke-width="3"/>
<line x1="3036.7" y1="1840.4" x2="3204.4" y2="1840.4" stroke="#000" stroke-width="4" stroke-linecap="round"/>
<path d="M3192.2 1833.1 L3207.5 1840.4 L3192.2 1848.3 Z" fill="#000" stroke="#000" stroke-width="3" stroke-linejoin="round" stroke-linecap="round"/>
<path d="M2922.6 2122.8 C2923.1 2116.4 2927.8 2110.6 2933 2107.6 C2938.2 2104.6 2948.2 2100.9 2957.4 2102.7 C2966.5 2104.5 2979.4 2110.8 2994 2119.8 C3008.6 2128.7 3027.5 2148.7 3055 2162.5 C3082.4 2176.2 3140.4 2199.4 3177 2211.3 C3213.6 2223.2 3267 2235.5 3299 2241.8 C3331 2248 3374.2 2248.2 3390.5 2252.8 C3406.8 2257.3 3407.1 2265.2 3407.6 2272.3 C3408 2279.3 3400.7 2292.9 3393.5 2299.7 C3386.4 2306.6 3383.3 2312.1 3360 2318 C3336.6 2324 3274.6 2339.8 3238 2339.4 C3201.4 2338.9 3148 2325.9 3116 2315 C3084 2304 3048.3 2284.5 3024.5 2266.2 C3000.7 2247.9 2971.6 2210.4 2957.4 2193 C2943.2 2175.6 2935.2 2160.8 2929.9 2150.3 C2924.7 2139.8 2922.2 2129.2 2922.6 2122.8 Z" fill="#F96B2D"/>
<path d="M2933 2156.4 C2937.1 2160.9 2946.3 2172.7 2960.4 2186.9 C2974.6 2201.1 3004.2 2234.5 3027.5 2250.9 C3050.9 2267.4 3084.4 2286.3 3116 2296.7 C3147.6 2307 3201.4 2319.8 3238 2319.8 C3274.6 2319.8 3335.3 2302.9 3360 2296.7 C3384.7 2290.4 3396.3 2281.1 3402.7 2278.4 L3393.5 2299.7 C3388.5 2302.5 3383.3 2312.1 3360 2318 C3336.6 2324 3274.6 2339.8 3238 2339.4 C3201.4 2338.9 3148 2325.9 3116 2315 C3084 2304 3048.3 2284.5 3024.5 2266.2 C3000.7 2247.9 2971.6 2210.4 2957.4 2193 C2943.2 2175.6 2934.1 2156.7 2929.9 2150.3 Z" fill="#BC4A57"/>
<path d="M2922.6 2122.8 C2923.1 2116.4 2927.8 2110.6 2933 2107.6 C2938.2 2104.6 2948.2 2100.9 2957.4 2102.7 C2966.5 2104.5 2979.4 2110.8 2994 2119.8 C3008.6 2128.7 3027.5 2148.7 3055 2162.5 C3082.4 2176.2 3140.4 2199.4 3177 2211.3 C3213.6 2223.2 3267 2235.5 3299 2241.8 C3331 2248 3374.2 2248.2 3390.5 2252.8 C3406.8 2257.3 3407.1 2265.2 3407.6 2272.3 C3408 2279.3 3400.7 2292.9 3393.5 2299.7 C3386.4 2306.6 3383.3 2312.1 3360 2318 C3336.6 2324 3274.6 2339.8 3238 2339.4 C3201.4 2338.9 3148 2325.9 3116 2315 C3084 2304 3048.3 2284.5 3024.5 2266.2 C3000.7 2247.9 2971.6 2210.4 2957.4 2193 C2943.2 2175.6 2935.2 2160.8 2929.9 2150.3 C2924.7 2139.8 2922.2 2129.2 2922.6 2122.8 Z" fill="none" stroke="#000" stroke-width="7" stroke-linejoin="round" stroke-linecap="round"/>
<ellipse cx="2947" cy="2127.7" rx="7" ry="11" transform="rotate(-15 2947 2127.7)" fill="#fff" stroke="#000" stroke-width="3"/>
<line x1="2995.2" y1="2006.9" x2="3053.2" y2="2155.2" stroke="#000" stroke-width="44" stroke-linecap="round"/>
<line x1="2995.2" y1="2006.9" x2="3053.2" y2="2155.2" stroke="#454142" stroke-width="34" stroke-linecap="round"/>
<circle cx="2995.2" cy="2006.9" r="6" fill="#fff" stroke="#000" stroke-width="3"/>
<circle cx="3053.2" cy="2155.2" r="6" fill="#fff" stroke="#000" stroke-width="3"/>
<circle cx="3470" cy="1385" r="66" fill="#F47D32"/>
<!-- art_labels -->
<text x="2230" y="79" font-size="46" fill="#111" textLength="203" lengthAdjust="spacingAndGlyphs" transform="rotate(-2 2230 79)">Flickers when</text>
<text x="2182" y="127" font-size="46" fill="#111" textLength="247" lengthAdjust="spacingAndGlyphs" transform="rotate(-2 2182 127)">stand is opened</text>
<text x="1648" y="349" font-size="46" fill="#111" textLength="203" lengthAdjust="spacingAndGlyphs" transform="rotate(-1 1648 349)">Wires towards</text>
<text x="1653" y="397" font-size="46" fill="#111" textLength="194" lengthAdjust="spacingAndGlyphs" transform="rotate(-1 1653 397)">rear front fork</text>
<text x="1723" y="630" font-size="60" fill="#111" textLength="308" lengthAdjust="spacingAndGlyphs" transform="rotate(-4 1723 630)">Brakes get locked</text>
<text x="1635" y="694" font-size="56" fill="#111" textLength="384" lengthAdjust="spacingAndGlyphs" transform="rotate(-3 1635 694)">when bike is locked</text>
<text x="2222" y="532" font-size="46" fill="#111" textLength="200" lengthAdjust="spacingAndGlyphs" transform="rotate(-22 2222 532)">Screws clamp it</text>
<text x="2248" y="545" font-size="34" fill="#111" textLength="24" lengthAdjust="spacingAndGlyphs" transform="rotate(-10 2248 545)">in</text>
<text x="2304" y="1056" font-size="46" fill="#111" textLength="105" lengthAdjust="spacingAndGlyphs" transform="rotate(-3 2304 1056)">Finger</text>
<text x="2309" y="1105" font-size="46" fill="#111" textLength="217" lengthAdjust="spacingAndGlyphs" transform="rotate(-3 2309 1105)">Print Scanner</text>
<text x="2661" y="944" font-size="46" fill="#111" textLength="122" lengthAdjust="spacingAndGlyphs" transform="rotate(-8 2661 944)">Robust</text>
<text x="2661" y="988" font-size="44" fill="#111" textLength="144" lengthAdjust="spacingAndGlyphs" transform="rotate(-6 2661 988)">Housing</text>
<text x="2483" y="1474" font-size="44" fill="#111" textLength="98" lengthAdjust="spacingAndGlyphs" transform="rotate(-8 2483 1474)">Screw</text>
<text x="2509" y="1516" font-size="48" fill="#111" textLength="162" lengthAdjust="spacingAndGlyphs" transform="rotate(-9 2509 1516)">Mounted</text>
<text x="2776" y="1680" font-size="46" fill="#111" textLength="282" lengthAdjust="spacingAndGlyphs" transform="rotate(-3 2776 1680)">Force of ≈1000 N</text>
<text x="2761" y="1750" font-size="44" fill="#111" textLength="196" lengthAdjust="spacingAndGlyphs" transform="rotate(-4 2761 1750)">[DINED 95%.</text>
<text x="2788" y="1792" font-size="44" fill="#111" textLength="229" lengthAdjust="spacingAndGlyphs" transform="rotate(-4 2788 1792)">(20-30 male)</text>
<text x="2694" y="1858" font-size="42" fill="#111" textLength="289" lengthAdjust="spacingAndGlyphs" transform="rotate(-4 2694 1858)">is 469 N, ×2 for</text>
<text x="2746" y="1912" font-size="42" fill="#111" textLength="105" lengthAdjust="spacingAndGlyphs" transform="rotate(-2 2746 1912)">arm ]</text>
<text x="3231" y="1866" font-size="52" fill="#111" textLength="165" lengthAdjust="spacingAndGlyphs" transform="rotate(-3 3231 1866)">Cables of</text>
<text x="3176" y="1933" font-size="52" fill="#111" textLength="217" lengthAdjust="spacingAndGlyphs" transform="rotate(-3 3176 1933)">breaks get</text>
<text x="3190" y="2004" font-size="52" fill="#111" textLength="192" lengthAdjust="spacingAndGlyphs" transform="rotate(-3 3190 2004)">tightened</text>
<text x="2412" y="2409" font-size="34" fill="#111" textLength="229" lengthAdjust="spacingAndGlyphs" transform="rotate(-3 2412 2409)">Robust Connections</text>

</svg>

<div class="t " style="left:88.1px;top:96.9px;font-size:77.5px;letter-spacing:3.49px;">Concept 2: The Light Lock</div>
<div class="t " style="left:76.0px;top:257.1px;font-size:44px;letter-spacing:2.51px;">Description:</div>
<div class="t " style="left:374.0px;top:257.1px;font-size:44px;letter-spacing:2.30px;word-spacing:8.79px;">The light lock is a personalised lock system that</div>
<div class="t " style="left:75.8px;top:326.0px;font-size:44px;letter-spacing:2.30px;word-spacing:11.29px;">helps the user easily secure their bike to your standard bike</div>
<div class="t " style="left:75.8px;top:394.5px;font-size:44px;letter-spacing:2.27px;">parking stands.</div>
<div class="t " style="left:76.4px;top:463.3px;font-size:44px;letter-spacing:2.30px;word-spacing:7.83px;">The new front wheel lock system provides a unique one-touch</div>
<div class="t " style="left:76.5px;top:531.8px;font-size:44px;letter-spacing:2.30px;word-spacing:1.78px;">solution for locking and unlocking removing the hustles of u lock</div>
<div class="t " style="left:76.5px;top:600.7px;font-size:44px;letter-spacing:2.30px;word-spacing:1.29px;">and the chain locks. All you need is one fingerprint scan into our</div>
<div class="t " style="left:76.4px;top:669.8px;font-size:44px;letter-spacing:2.30px;word-spacing:10.40px;">AXA database and you are ready to go on your bike journey</div>
<div class="t " style="left:77.5px;top:738.7px;font-size:44px;letter-spacing:2.40px;">without any worries.</div>
<div class="t " style="left:94.4px;top:829.8px;font-size:44px;letter-spacing:1.85px;">Features:</div>
<div class="t " style="left:297.0px;top:906.0px;font-size:44px;letter-spacing:1.73px;">The locking mechanism has a soft cover to avoid</div>
<div class="t " style="left:297.0px;top:974.4px;font-size:44px;letter-spacing:1.87px;">damages caused to the bikes.</div>
<div class="t " style="left:296.0px;top:1076.8px;font-size:44px;letter-spacing:1.78px;">Green and red lights indicate the user if their bike is</div>
<div class="t " style="left:296.0px;top:1145.2px;font-size:44px;letter-spacing:2.20px;">unlocked and locked respectively.</div>
<div class="t " style="left:297.0px;top:1244.6px;font-size:44px;letter-spacing:2.06px;">The sliding lock mechanism works on motorized rack</div>
<div class="t " style="left:297.0px;top:1313.8px;font-size:44px;letter-spacing:2.04px;">and pinion gear system directly near the front wheel.</div>
<div class="t " style="left:297.0px;top:1406.2px;font-size:44px;letter-spacing:2.46px;">The automatic lock/unlock mechanism, lighting</div>
<div class="t " style="left:298.0px;top:1475.3px;font-size:44px;letter-spacing:1.66px;">functions and the gear system for each Slide Stand are</div>
<div class="t " style="left:296.0px;top:1543.8px;font-size:44px;letter-spacing:1.94px;">powered by a centralized power supply system.</div>
<div class="t " style="left:241.0px;top:1713.1px;font-size:68px;letter-spacing:3.58px;">Materials:</div>
<div class="t " style="left:49.0px;top:1813.6px;font-size:43.5px;letter-spacing:2.28px;">Front mechanism: hardened stainless</div>
<div class="t " style="left:51.0px;top:1873.6px;font-size:43.5px;letter-spacing:2.29px;">steel (should be strong with sturdy</div>
<div class="t " style="left:49.0px;top:1932.9px;font-size:43.5px;letter-spacing:2.91px;">hinge points)</div>
<div class="t " style="left:61.0px;top:1992.2px;font-size:43.5px;letter-spacing:2.50px;">*Painted regular steel might be worn</div>
<div class="t " style="left:51.0px;top:2051.2px;font-size:43.5px;letter-spacing:3.08px;">down by repeated movement when</div>
<div class="t " style="left:50.0px;top:2110.6px;font-size:43.5px;letter-spacing:2.86px;">locking and unlocking.</div>
<div class="t " style="left:49.0px;top:2169.9px;font-size:43.5px;letter-spacing:2.17px;">Backlight: Plastic Polycarbonate with a</div>
<div class="t " style="left:51.0px;top:2229.2px;font-size:43.5px;letter-spacing:1.75px;">slot for replaceable batteries. The</div>
<div class="t " style="left:52.0px;top:2288.2px;font-size:43.5px;letter-spacing:1.82px;">fingerprint scanner: Sensor &amp; copper</div>
<div class="t " style="left:52.0px;top:2347.7px;font-size:43.5px;letter-spacing:2.55px;">wiring to connect the system.</div>
<div class="t " style="left:2597.7px;top:2414.8px;font-size:51px;letter-spacing:2.55px;">Figure 7: Concept 2, Light Lock</div>
<div class="t " style="left:138.5px;top:925.1px;font-size:32.5px;letter-spacing:3.45px;">Key</div>
<div class="t " style="left:137.2px;top:968.5px;font-size:32.5px;letter-spacing:3.60px;">free</div>
<div class="t " style="left:114.6px;top:1095.9px;font-size:32.5px;letter-spacing:3.35px;">Brakes</div>
<div class="t " style="left:132.4px;top:1139.9px;font-size:32.5px;letter-spacing:4.32px;">Lock</div>
<div class="t " style="left:134.0px;top:1294.9px;font-size:32.5px;letter-spacing:4.66px;">Light</div>
<div class="t " style="left:124.0px;top:1452.2px;font-size:32.5px;letter-spacing:4.39px;">Power</div>
<div class="t " style="left:119.8px;top:1495.5px;font-size:32.5px;letter-spacing:3.37px;">Supply</div>
</div></body></html>
